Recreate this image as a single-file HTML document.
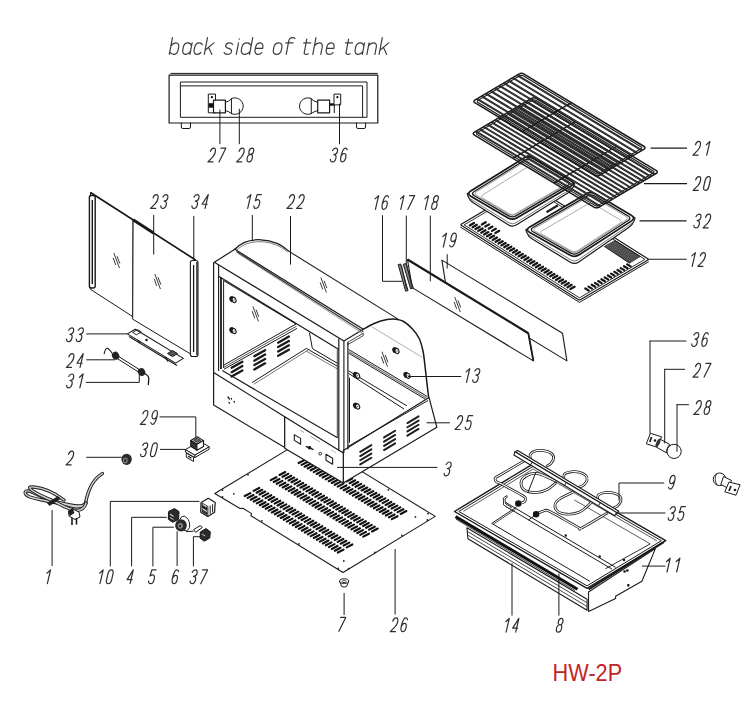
<!DOCTYPE html>
<html><head><meta charset="utf-8"><style>
html,body{margin:0;padding:0;background:#fff;}
svg{display:block;}
text{font-family:"Liberation Sans",sans-serif;font-style:italic;}
</style></head><body>
<svg width="755" height="702" viewBox="0 0 755 702">
<rect width="755" height="702" fill="#fff"/>
<path d="M172.49,37.60 L169.30,54.40  M170.92,45.90 C172.61,43.80 174.29,42.90 175.89,42.90 C178.39,42.90 179.12,44.80 178.63,47.40 L178.16,49.90 C177.66,52.50 176.20,54.40 173.70,54.40 C172.10,54.40 170.73,53.70 169.79,51.80  M192.12,42.90 L189.94,54.40  M191.55,45.90 C190.85,43.80 189.62,42.90 188.12,42.90 C185.52,42.90 183.76,44.80 183.27,47.40 L182.79,49.90 C182.30,52.50 183.34,54.40 185.94,54.40 C187.44,54.40 189.01,53.50 190.51,51.40  M202.36,44.80 C201.81,43.50 200.92,42.90 199.42,42.90 C196.92,42.90 195.16,44.80 194.67,47.40 L194.19,49.90 C193.70,52.50 194.74,54.40 197.24,54.40 C198.74,54.40 199.85,53.80 200.90,52.50  M207.49,37.60 L204.30,54.40  M213.89,42.90 L205.10,50.20  M208.55,47.30 L211.90,54.40  M232.64,44.50 C231.97,43.30 230.94,42.90 229.54,42.90 C227.44,42.90 226.05,43.90 225.71,45.70 C225.37,47.50 226.97,48.00 228.60,48.40 C230.40,48.90 231.89,49.50 231.51,51.50 C231.13,53.50 229.46,54.40 227.36,54.40 C225.76,54.40 224.65,53.90 224.10,52.60  M238.49,42.90 L236.30,54.40  M239.21,39.10 L239.26,38.80  M252.73,37.60 L249.54,54.40  M251.15,45.90 C250.35,43.80 248.82,42.90 247.12,42.90 C244.22,42.90 242.36,44.80 241.87,47.40 L241.39,49.90 C240.90,52.50 242.04,54.40 244.94,54.40 C246.64,54.40 248.51,53.50 250.11,51.40  M255.48,48.40 L262.68,48.40 C263.34,44.90 262.32,42.90 260.22,42.90 C257.82,42.90 256.06,44.80 255.57,47.40 L255.09,49.90 C254.60,52.50 255.64,54.40 258.14,54.40 C259.54,54.40 260.85,53.80 261.88,52.60  M278.72,42.90 C276.12,42.90 274.36,44.80 273.87,47.40 L273.39,49.90 C272.90,52.50 273.94,54.40 276.54,54.40 C279.14,54.40 280.90,52.50 281.39,49.90 L281.87,47.40 C282.36,44.80 281.32,42.90 278.72,42.90 Z M294.96,38.40 C294.27,37.80 293.41,37.60 292.51,37.60 C290.51,37.60 289.16,38.90 288.78,40.90 L286.22,54.40  M285.80,42.90 L293.00,42.90  M306.80,39.20 L304.29,52.40 C304.05,53.70 304.71,54.40 306.12,54.40 C306.91,54.40 307.65,54.20 308.43,53.80  M303.70,42.90 L310.70,42.90  M315.99,37.60 L312.80,54.40  M314.43,45.80 C316.03,43.70 317.79,42.90 319.29,42.90 C321.79,42.90 322.70,44.40 322.21,47.00 L320.80,54.40  M326.68,48.40 L333.88,48.40 C334.54,44.90 333.52,42.90 331.42,42.90 C329.02,42.90 327.26,44.80 326.77,47.40 L326.29,49.90 C325.80,52.50 326.84,54.40 329.34,54.40 C330.74,54.40 332.05,53.80 333.08,52.60  M348.60,39.20 L346.09,52.40 C345.85,53.70 346.51,54.40 347.92,54.40 C348.71,54.40 349.45,54.20 350.23,53.80  M345.50,42.90 L352.50,42.90  M364.52,42.90 L362.34,54.40  M363.95,45.90 C363.25,43.80 362.02,42.90 360.52,42.90 C357.92,42.90 356.16,44.80 355.67,47.40 L355.19,49.90 C354.70,52.50 355.74,54.40 358.34,54.40 C359.84,54.40 361.41,53.50 362.91,51.40  M369.08,42.90 L366.90,54.40  M368.53,45.80 C370.13,43.70 371.88,42.90 373.38,42.90 C375.88,42.90 376.80,44.40 376.31,47.00 L374.90,54.40  M382.29,37.60 L379.10,54.40  M388.69,42.90 L379.90,50.20  M383.35,47.30 L386.70,54.40  " fill="none" stroke="#3c3c3c" stroke-width="1.2" stroke-linecap="round" stroke-linejoin="round"/>
<line x1="170.5" y1="73.4" x2="377.8" y2="73.4" stroke="#1a1a1a" stroke-width="1.0" />
<polygon points="169.1,75.2 377.8,75.2 377.8,123 169.1,123" fill="none" stroke="#1a1a1a" stroke-width="1.2" stroke-linejoin="round" />
<polygon points="180.4,82 367,82 367,117.3 180.4,117.3" fill="none" stroke="#1a1a1a" stroke-width="1.0" stroke-linejoin="round" />
<line x1="180.4" y1="85.9" x2="362.6" y2="85.9" stroke="#1a1a1a" stroke-width="1.0" />
<line x1="362.6" y1="85.9" x2="362.6" y2="117.3" stroke="#1a1a1a" stroke-width="1.0" />
<path d="M181.3,123 L181.3,127 Q181.3,128.5 183,128.5 L189,128.5 Q190.5,128.5 190.5,127 L190.5,123" fill="none" stroke="#1a1a1a" stroke-width="1.0" stroke-linejoin="round" stroke-linecap="round" />
<path d="M356.5,123 L356.5,127 Q356.5,128.5 358,128.5 L364,128.5 Q365.6,128.5 365.6,127 L365.6,123" fill="none" stroke="#1a1a1a" stroke-width="1.0" stroke-linejoin="round" stroke-linecap="round" />
<polygon points="208.3,94.1 215.5,94.1 215.5,112.8 208.3,112.8" fill="#fff" stroke="#1a1a1a" stroke-width="1.0" stroke-linejoin="round" />
<rect x="208.6" y="103.2" width="4.8" height="4.5" fill="#111"/>
<circle cx="211.9" cy="97.2" r="0.6" fill="#111" stroke="#1a1a1a" stroke-width="1.1"/>
<path d="M231.8,98.4 A8.3,8.3 0 1 1 231.8,113.8 Z" fill="#fff" stroke="#1a1a1a" stroke-width="1.0" stroke-linejoin="round" stroke-linecap="round" />
<path d="M225.4,102.5 Q229,101.5 231.8,98.6 M225.4,110.5 Q229,111.5 231.8,113.6" fill="none" stroke="#1a1a1a" stroke-width="1.0" stroke-linejoin="round" stroke-linecap="round" />
<polygon points="213.5,100.1 225.4,100.1 225.4,112.8 213.5,112.8" fill="#fff" stroke="#1a1a1a" stroke-width="1.2" stroke-linejoin="round" />
<path d="M310.9,98.4 A8.3,8.3 0 1 0 310.9,113.8 Z" fill="#fff" stroke="#1a1a1a" stroke-width="1.0" stroke-linejoin="round" stroke-linecap="round" />
<path d="M317.7,102.5 Q314,101.5 310.9,98.6 M317.7,110.5 Q314,111.5 310.9,113.6" fill="none" stroke="#1a1a1a" stroke-width="1.0" stroke-linejoin="round" stroke-linecap="round" />
<polygon points="317.7,100.1 329.6,100.1 329.6,112.8 317.7,112.8" fill="#fff" stroke="#1a1a1a" stroke-width="1.2" stroke-linejoin="round" />
<rect x="329.6" y="103.3" width="5" height="2.4" fill="#111"/>
<line x1="334.3" y1="104" x2="334.3" y2="113" stroke="#1a1a1a" stroke-width="1.0" />
<polygon points="334,94.1 340.7,94.1 340.7,104.9 334,104.9" fill="#fff" stroke="#1a1a1a" stroke-width="1.0" stroke-linejoin="round" />
<circle cx="337.4" cy="97.2" r="0.6" fill="#111" stroke="#1a1a1a" stroke-width="1.1"/>
<line x1="219.9" y1="109.6" x2="219.9" y2="144.2" stroke="#1a1a1a" stroke-width="1.0" />
<line x1="239.3" y1="108.8" x2="239.3" y2="144.2" stroke="#1a1a1a" stroke-width="1.0" />
<line x1="339.5" y1="103.7" x2="339.5" y2="144.2" stroke="#1a1a1a" stroke-width="1.0" />
<path d="M210.43,151.41 C211.10,149.20 212.38,148.10 213.65,148.10 C215.18,148.10 215.88,149.48 215.24,152.24 C214.76,154.31 213.83,155.69 212.59,157.07 L207.90,161.90 L213.00,161.90 M220.80,148.10 L225.90,148.10 L219.03,161.90 " fill="none" stroke="#2e2e2e" stroke-width="1.2" stroke-linecap="round" stroke-linejoin="round"/>
<path d="M239.14,151.41 C239.80,149.20 241.08,148.10 242.36,148.10 C243.89,148.10 244.59,149.48 243.95,152.24 C243.47,154.31 242.53,155.69 241.30,157.07 L236.61,161.90 L241.71,161.90 M250.58,154.45 C248.90,154.45 248.61,153.07 249.02,151.27 C249.50,149.20 250.78,148.10 252.06,148.10 C253.33,148.10 254.09,149.20 253.61,151.27 C253.20,153.07 252.27,154.45 250.58,154.45 C248.80,154.45 247.65,156.10 247.17,158.17 C246.63,160.52 247.33,161.90 248.86,161.90 C250.39,161.90 251.73,160.52 252.27,158.17 C252.75,156.10 252.37,154.45 250.58,154.45 Z " fill="none" stroke="#2e2e2e" stroke-width="1.2" stroke-linecap="round" stroke-linejoin="round"/>
<path d="M332.56,150.58 C333.49,148.79 334.67,148.10 335.69,148.10 C337.22,148.10 337.92,149.48 337.41,151.69 C336.93,153.76 335.71,154.59 333.78,154.59 M333.78,154.59 C335.71,154.59 336.41,155.97 335.87,158.31 C335.29,160.80 334.02,161.90 332.49,161.90 C331.21,161.90 330.35,161.21 330.51,159.42 M347.15,149.76 C346.82,148.51 346.15,148.10 345.39,148.10 C343.60,148.10 341.88,152.24 340.92,156.38 C340.12,159.83 340.66,161.90 342.19,161.90 C343.72,161.90 345.19,159.97 345.76,157.48 C346.34,155.00 345.67,153.48 344.14,153.48 C342.87,153.48 341.49,155.00 340.85,156.66 " fill="none" stroke="#2e2e2e" stroke-width="1.2" stroke-linecap="round" stroke-linejoin="round"/>
<polyline points="460.3,227 579.5,302.4 648.8,261.6" fill="none" stroke="#1a1a1a" stroke-width="1.0" stroke-linejoin="round" />
<path d="M461.57,225.6 Q460.3,224.8 461.59,224.04 L528.31,184.76 Q529.6,184 530.87,184.8 L647.53,258.6 Q648.8,259.4 647.51,260.16 L580.79,299.44 Q579.5,300.2 578.23,299.4 Z" fill="#fff" stroke="#1a1a1a" stroke-width="1.2" stroke-linejoin="round" stroke-linecap="round" />
<polygon points="464.14,224.86 529.56,186.34 644.96,259.34 579.54,297.86" fill="none" stroke="#1a1a1a" stroke-width="0.9" stroke-linejoin="round" />
<line x1="469.74" y1="225.38" x2="473.93" y2="223.03" stroke="#151515" stroke-width="2.3" stroke-linecap="round"/>
<line x1="472.62" y1="227.2" x2="476.8" y2="224.85" stroke="#151515" stroke-width="2.3" stroke-linecap="round"/>
<line x1="475.49" y1="229.01" x2="479.68" y2="226.66" stroke="#151515" stroke-width="2.3" stroke-linecap="round"/>
<line x1="478.36" y1="230.83" x2="482.55" y2="228.48" stroke="#151515" stroke-width="2.3" stroke-linecap="round"/>
<line x1="481.24" y1="232.65" x2="485.42" y2="230.3" stroke="#151515" stroke-width="2.3" stroke-linecap="round"/>
<line x1="484.11" y1="234.47" x2="488.3" y2="232.12" stroke="#151515" stroke-width="2.3" stroke-linecap="round"/>
<line x1="486.99" y1="236.29" x2="491.17" y2="233.94" stroke="#151515" stroke-width="2.3" stroke-linecap="round"/>
<line x1="489.86" y1="238.11" x2="494.05" y2="235.75" stroke="#151515" stroke-width="2.3" stroke-linecap="round"/>
<line x1="492.74" y1="239.92" x2="496.92" y2="237.57" stroke="#151515" stroke-width="2.3" stroke-linecap="round"/>
<line x1="495.61" y1="241.74" x2="499.8" y2="239.39" stroke="#151515" stroke-width="2.3" stroke-linecap="round"/>
<line x1="498.49" y1="243.56" x2="502.67" y2="241.21" stroke="#151515" stroke-width="2.3" stroke-linecap="round"/>
<line x1="501.36" y1="245.38" x2="505.55" y2="243.03" stroke="#151515" stroke-width="2.3" stroke-linecap="round"/>
<line x1="504.24" y1="247.2" x2="508.42" y2="244.85" stroke="#151515" stroke-width="2.3" stroke-linecap="round"/>
<line x1="507.11" y1="249.02" x2="511.29" y2="246.66" stroke="#151515" stroke-width="2.3" stroke-linecap="round"/>
<line x1="509.98" y1="250.83" x2="514.17" y2="248.48" stroke="#151515" stroke-width="2.3" stroke-linecap="round"/>
<line x1="512.86" y1="252.65" x2="517.04" y2="250.3" stroke="#151515" stroke-width="2.3" stroke-linecap="round"/>
<line x1="515.73" y1="254.47" x2="519.92" y2="252.12" stroke="#151515" stroke-width="2.3" stroke-linecap="round"/>
<line x1="518.61" y1="256.29" x2="522.79" y2="253.94" stroke="#151515" stroke-width="2.3" stroke-linecap="round"/>
<line x1="521.48" y1="258.11" x2="525.67" y2="255.76" stroke="#151515" stroke-width="2.3" stroke-linecap="round"/>
<line x1="524.36" y1="259.92" x2="528.54" y2="257.57" stroke="#151515" stroke-width="2.3" stroke-linecap="round"/>
<line x1="527.23" y1="261.74" x2="531.42" y2="259.39" stroke="#151515" stroke-width="2.3" stroke-linecap="round"/>
<line x1="530.11" y1="263.56" x2="534.29" y2="261.21" stroke="#151515" stroke-width="2.3" stroke-linecap="round"/>
<line x1="532.98" y1="265.38" x2="537.17" y2="263.03" stroke="#151515" stroke-width="2.3" stroke-linecap="round"/>
<line x1="535.85" y1="267.2" x2="540.04" y2="264.85" stroke="#151515" stroke-width="2.3" stroke-linecap="round"/>
<line x1="538.73" y1="269.02" x2="542.91" y2="266.67" stroke="#151515" stroke-width="2.3" stroke-linecap="round"/>
<line x1="541.6" y1="270.83" x2="545.79" y2="268.48" stroke="#151515" stroke-width="2.3" stroke-linecap="round"/>
<line x1="544.48" y1="272.65" x2="548.66" y2="270.3" stroke="#151515" stroke-width="2.3" stroke-linecap="round"/>
<line x1="547.35" y1="274.47" x2="551.54" y2="272.12" stroke="#151515" stroke-width="2.3" stroke-linecap="round"/>
<line x1="550.23" y1="276.29" x2="554.41" y2="273.94" stroke="#151515" stroke-width="2.3" stroke-linecap="round"/>
<line x1="553.1" y1="278.11" x2="557.29" y2="275.76" stroke="#151515" stroke-width="2.3" stroke-linecap="round"/>
<line x1="555.98" y1="279.93" x2="560.16" y2="277.57" stroke="#151515" stroke-width="2.3" stroke-linecap="round"/>
<line x1="558.85" y1="281.74" x2="563.04" y2="279.39" stroke="#151515" stroke-width="2.3" stroke-linecap="round"/>
<line x1="561.73" y1="283.56" x2="565.91" y2="281.21" stroke="#151515" stroke-width="2.3" stroke-linecap="round"/>
<line x1="564.6" y1="285.38" x2="568.78" y2="283.03" stroke="#151515" stroke-width="2.3" stroke-linecap="round"/>
<line x1="567.47" y1="287.2" x2="571.66" y2="284.85" stroke="#151515" stroke-width="2.3" stroke-linecap="round"/>
<line x1="570.35" y1="289.02" x2="574.53" y2="286.67" stroke="#151515" stroke-width="2.3" stroke-linecap="round"/>
<line x1="481.88" y1="224.43" x2="485.72" y2="222.27" stroke="#151515" stroke-width="2.2" stroke-linecap="round"/>
<line x1="485.26" y1="226.57" x2="489.1" y2="224.41" stroke="#151515" stroke-width="2.2" stroke-linecap="round"/>
<line x1="488.64" y1="228.71" x2="492.48" y2="226.55" stroke="#151515" stroke-width="2.2" stroke-linecap="round"/>
<line x1="492.02" y1="230.84" x2="495.86" y2="228.69" stroke="#151515" stroke-width="2.2" stroke-linecap="round"/>
<line x1="495.4" y1="232.98" x2="499.24" y2="230.83" stroke="#151515" stroke-width="2.2" stroke-linecap="round"/>
<line x1="585.28" y1="288.48" x2="588.72" y2="290.52" stroke="#151515" stroke-width="2.2" stroke-linecap="round"/>
<line x1="588.5" y1="286.63" x2="591.94" y2="288.67" stroke="#151515" stroke-width="2.2" stroke-linecap="round"/>
<line x1="591.73" y1="284.77" x2="595.17" y2="286.81" stroke="#151515" stroke-width="2.2" stroke-linecap="round"/>
<line x1="594.95" y1="282.92" x2="598.39" y2="284.96" stroke="#151515" stroke-width="2.2" stroke-linecap="round"/>
<line x1="598.17" y1="281.06" x2="601.61" y2="283.1" stroke="#151515" stroke-width="2.2" stroke-linecap="round"/>
<line x1="601.4" y1="279.21" x2="604.84" y2="281.25" stroke="#151515" stroke-width="2.2" stroke-linecap="round"/>
<line x1="604.62" y1="277.36" x2="608.06" y2="279.4" stroke="#151515" stroke-width="2.2" stroke-linecap="round"/>
<line x1="607.84" y1="275.5" x2="611.28" y2="277.54" stroke="#151515" stroke-width="2.2" stroke-linecap="round"/>
<line x1="611.06" y1="273.65" x2="614.5" y2="275.69" stroke="#151515" stroke-width="2.2" stroke-linecap="round"/>
<line x1="614.29" y1="271.8" x2="617.73" y2="273.84" stroke="#151515" stroke-width="2.2" stroke-linecap="round"/>
<line x1="617.51" y1="269.94" x2="620.95" y2="271.98" stroke="#151515" stroke-width="2.2" stroke-linecap="round"/>
<line x1="620.73" y1="268.09" x2="624.17" y2="270.13" stroke="#151515" stroke-width="2.2" stroke-linecap="round"/>
<line x1="623.96" y1="266.23" x2="627.4" y2="268.27" stroke="#151515" stroke-width="2.2" stroke-linecap="round"/>
<line x1="627.18" y1="264.38" x2="630.62" y2="266.42" stroke="#151515" stroke-width="2.2" stroke-linecap="round"/>
<polygon points="604.4,246.5 614.9,240.5 640.2,256.5 629.4,263.2" fill="#262626" stroke="#222" stroke-width="0.8" stroke-linejoin="round" />
<line x1="605.57" y1="245.83" x2="630.6" y2="262.46" stroke="#bbb" stroke-width="0.45" />
<line x1="606.73" y1="245.17" x2="631.8" y2="261.71" stroke="#bbb" stroke-width="0.45" />
<line x1="607.9" y1="244.5" x2="633" y2="260.97" stroke="#bbb" stroke-width="0.45" />
<line x1="609.07" y1="243.83" x2="634.2" y2="260.22" stroke="#bbb" stroke-width="0.45" />
<line x1="610.23" y1="243.17" x2="635.4" y2="259.48" stroke="#bbb" stroke-width="0.45" />
<line x1="611.4" y1="242.5" x2="636.6" y2="258.73" stroke="#bbb" stroke-width="0.45" />
<line x1="612.57" y1="241.83" x2="637.8" y2="257.99" stroke="#bbb" stroke-width="0.45" />
<line x1="613.73" y1="241.17" x2="639" y2="257.24" stroke="#bbb" stroke-width="0.45" />
<path d="M467.2,193.7 L468.46,196.97 Q469.9,200.7 473.28,202.83 L508.17,224.83 Q512.4,227.5 516.65,224.86 L568.6,192.61 Q572,190.5 573.44,186.77 L574.7,183.5 L528,155.5 Z" fill="#fff" stroke="#1a1a1a" stroke-width="1.2" stroke-linejoin="round" stroke-linecap="round" />
<path d="M469.2,198.1 L509,222.79 Q512.4,224.9 515.81,222.81 L572.7,187.9 " fill="none" stroke="#555" stroke-width="0.8" stroke-linejoin="round" stroke-linecap="round" />
<path d="M471.15,196.47 Q466.4,193.7 471.07,190.8 L523.33,158.4 Q528,155.5 532.74,158.29 L570.76,180.71 Q575.5,183.5 570.76,186.28 L517.14,217.72 Q512.4,220.5 507.65,217.73 Z" fill="#fff" stroke="#1a1a1a" stroke-width="1.7" stroke-linejoin="round" stroke-linecap="round" />
<path d="M474.3,195.76 Q470.67,193.64 474.24,191.43 L524.46,160.28 Q528.03,158.07 531.65,160.2 L567.54,181.36 Q571.16,183.49 567.54,185.62 L516.02,215.83 Q512.4,217.95 508.77,215.84 Z" fill="none" stroke="#1a1a1a" stroke-width="1.3" stroke-linejoin="round" stroke-linecap="round" />
<path d="M476.41,195.37 Q473.39,193.6 476.36,191.76 L525.07,161.55 Q528.05,159.71 531.06,161.48 L565.38,181.71 Q568.4,183.49 565.38,185.26 L515.41,214.56 Q512.39,216.33 509.37,214.57 Z" fill="none" stroke="#666" stroke-width="0.7" stroke-linejoin="round" stroke-linecap="round" />
<path d="M482.58,198.02 Q479.98,196.51 482.53,194.93 L525.54,168.26 Q528.09,166.68 530.68,168.2 L559.1,184.96 Q561.69,186.48 559.1,188 L514.98,213.87 Q512.39,215.39 509.8,213.88 Z" fill="none" stroke="#888" stroke-width="0.7" stroke-linejoin="round" stroke-linecap="round" />
<line x1="546.5" y1="212.3" x2="558" y2="205.2" stroke="#222" stroke-width="2.2" />
<path d="M525.8,229.7 L527.06,232.97 Q528.5,236.7 531.92,238.78 L570.33,262.2 Q574.6,264.8 578.72,261.97 L629.1,227.36 Q632.4,225.1 633.84,221.37 L635.1,218.1 L590.8,191.2 Z" fill="#fff" stroke="#1a1a1a" stroke-width="1.2" stroke-linejoin="round" stroke-linecap="round" />
<path d="M527.8,234.1 L571.17,260.14 Q574.6,262.2 577.91,259.95 L633.1,222.5 " fill="none" stroke="#555" stroke-width="0.8" stroke-linejoin="round" stroke-linecap="round" />
<path d="M529.79,232.41 Q525,229.7 529.75,226.92 L586.05,193.98 Q590.8,191.2 595.52,194.02 L631.18,215.28 Q635.9,218.1 631.28,221.09 L579.22,254.81 Q574.6,257.8 569.81,255.09 Z" fill="#fff" stroke="#1a1a1a" stroke-width="1.7" stroke-linejoin="round" stroke-linecap="round" />
<path d="M533.06,231.74 Q529.41,229.67 533.03,227.55 L587.16,195.88 Q590.79,193.76 594.4,195.91 L628.13,216.03 Q631.73,218.18 628.21,220.46 L578.05,252.95 Q574.52,255.23 570.87,253.16 Z" fill="none" stroke="#1a1a1a" stroke-width="1.3" stroke-linejoin="round" stroke-linecap="round" />
<path d="M535.26,231.37 Q532.21,229.65 535.24,227.88 L587.76,197.15 Q590.78,195.38 593.79,197.17 L626.08,216.43 Q629.08,218.23 626.15,220.13 L577.41,251.69 Q574.48,253.59 571.43,251.87 Z" fill="none" stroke="#666" stroke-width="0.7" stroke-linejoin="round" stroke-linecap="round" />
<path d="M541.64,234.08 Q539.03,232.6 541.62,231.09 L588.18,203.85 Q590.77,202.33 593.34,203.87 L620.07,219.81 Q622.64,221.34 620.13,222.98 L576.88,250.99 Q574.36,252.62 571.75,251.14 Z" fill="none" stroke="#888" stroke-width="0.7" stroke-linejoin="round" stroke-linecap="round" />
<path d="M474.47,135.15 Q471.9,133.6 474.48,132.08 L531.42,98.52 Q534,97 536.57,98.55 L656.03,170.45 Q658.6,172 656.02,173.52 L599.08,207.08 Q596.5,208.6 593.93,207.05 Z" fill="none" stroke="#1a1a1a" stroke-width="1.5" stroke-linejoin="round" stroke-linecap="round" />
<path d="M477.33,134.65 Q475.61,133.62 477.34,132.6 L532.27,100.23 Q533.99,99.21 535.7,100.24 L653.17,170.95 Q654.89,171.98 653.16,173 L598.23,205.37 Q596.51,206.39 594.8,205.36 Z" fill="none" stroke="#1a1a1a" stroke-width="1.1" stroke-linejoin="round" stroke-linecap="round" />
<line x1="475.78" y1="131.31" x2="600.38" y2="206.31" stroke="#1a1a1a" stroke-width="2.0" />
<line x1="475.78" y1="131.31" x2="600.38" y2="206.31" stroke="#777" stroke-width="0.4" />
<line x1="479.66" y1="129.03" x2="604.26" y2="204.03" stroke="#1a1a1a" stroke-width="2.0" />
<line x1="479.66" y1="129.03" x2="604.26" y2="204.03" stroke="#777" stroke-width="0.4" />
<line x1="483.54" y1="126.74" x2="608.14" y2="201.74" stroke="#1a1a1a" stroke-width="2.0" />
<line x1="483.54" y1="126.74" x2="608.14" y2="201.74" stroke="#777" stroke-width="0.4" />
<line x1="487.42" y1="124.45" x2="612.02" y2="199.45" stroke="#1a1a1a" stroke-width="2.0" />
<line x1="487.42" y1="124.45" x2="612.02" y2="199.45" stroke="#777" stroke-width="0.4" />
<line x1="491.31" y1="122.16" x2="615.91" y2="197.16" stroke="#1a1a1a" stroke-width="2.0" />
<line x1="491.31" y1="122.16" x2="615.91" y2="197.16" stroke="#777" stroke-width="0.4" />
<line x1="495.19" y1="119.88" x2="619.79" y2="194.88" stroke="#1a1a1a" stroke-width="2.0" />
<line x1="495.19" y1="119.88" x2="619.79" y2="194.88" stroke="#777" stroke-width="0.4" />
<line x1="499.07" y1="117.59" x2="623.67" y2="192.59" stroke="#1a1a1a" stroke-width="2.0" />
<line x1="499.07" y1="117.59" x2="623.67" y2="192.59" stroke="#777" stroke-width="0.4" />
<line x1="502.95" y1="115.3" x2="627.55" y2="190.3" stroke="#1a1a1a" stroke-width="2.0" />
<line x1="502.95" y1="115.3" x2="627.55" y2="190.3" stroke="#777" stroke-width="0.4" />
<line x1="506.83" y1="113.01" x2="631.43" y2="188.01" stroke="#1a1a1a" stroke-width="2.0" />
<line x1="506.83" y1="113.01" x2="631.43" y2="188.01" stroke="#777" stroke-width="0.4" />
<line x1="510.71" y1="110.72" x2="635.31" y2="185.73" stroke="#1a1a1a" stroke-width="2.0" />
<line x1="510.71" y1="110.72" x2="635.31" y2="185.73" stroke="#777" stroke-width="0.4" />
<line x1="514.59" y1="108.44" x2="639.19" y2="183.44" stroke="#1a1a1a" stroke-width="2.0" />
<line x1="514.59" y1="108.44" x2="639.19" y2="183.44" stroke="#777" stroke-width="0.4" />
<line x1="518.48" y1="106.15" x2="643.08" y2="181.15" stroke="#1a1a1a" stroke-width="2.0" />
<line x1="518.48" y1="106.15" x2="643.08" y2="181.15" stroke="#777" stroke-width="0.4" />
<line x1="522.36" y1="103.86" x2="646.96" y2="178.86" stroke="#1a1a1a" stroke-width="2.0" />
<line x1="522.36" y1="103.86" x2="646.96" y2="178.86" stroke="#777" stroke-width="0.4" />
<line x1="526.24" y1="101.58" x2="650.84" y2="176.57" stroke="#1a1a1a" stroke-width="2.0" />
<line x1="526.24" y1="101.58" x2="650.84" y2="176.57" stroke="#777" stroke-width="0.4" />
<line x1="530.12" y1="99.29" x2="654.72" y2="174.29" stroke="#1a1a1a" stroke-width="2.0" />
<line x1="530.12" y1="99.29" x2="654.72" y2="174.29" stroke="#777" stroke-width="0.4" />
<line x1="513.02" y1="158.35" x2="575.12" y2="121.75" stroke="#1a1a1a" stroke-width="1.4" />
<line x1="554.14" y1="183.1" x2="616.24" y2="146.5" stroke="#1a1a1a" stroke-width="1.4" />
<path d="M475.17,102.95 Q472.6,101.4 475.18,99.87 L518.92,74.03 Q521.5,72.5 524.07,74.05 L643.73,146.25 Q646.3,147.8 643.72,149.33 L599.98,175.17 Q597.4,176.7 594.83,175.15 Z" fill="none" stroke="#1a1a1a" stroke-width="1.5" stroke-linejoin="round" stroke-linecap="round" />
<path d="M478.02,102.45 Q476.31,101.42 478.03,100.4 L519.77,75.73 Q521.49,74.71 523.2,75.75 L640.88,146.75 Q642.59,147.78 640.87,148.8 L599.13,173.47 Q597.41,174.49 595.7,173.45 Z" fill="none" stroke="#1a1a1a" stroke-width="1.1" stroke-linejoin="round" stroke-linecap="round" />
<line x1="477.05" y1="98.77" x2="601.85" y2="174.07" stroke="#1a1a1a" stroke-width="2.0" />
<line x1="477.05" y1="98.77" x2="601.85" y2="174.07" stroke="#777" stroke-width="0.4" />
<line x1="481.49" y1="96.15" x2="606.29" y2="171.45" stroke="#1a1a1a" stroke-width="2.0" />
<line x1="481.49" y1="96.15" x2="606.29" y2="171.45" stroke="#777" stroke-width="0.4" />
<line x1="485.94" y1="93.52" x2="610.74" y2="168.82" stroke="#1a1a1a" stroke-width="2.0" />
<line x1="485.94" y1="93.52" x2="610.74" y2="168.82" stroke="#777" stroke-width="0.4" />
<line x1="490.38" y1="90.89" x2="615.18" y2="166.19" stroke="#1a1a1a" stroke-width="2.0" />
<line x1="490.38" y1="90.89" x2="615.18" y2="166.19" stroke="#777" stroke-width="0.4" />
<line x1="494.83" y1="88.26" x2="619.63" y2="163.56" stroke="#1a1a1a" stroke-width="2.0" />
<line x1="494.83" y1="88.26" x2="619.63" y2="163.56" stroke="#777" stroke-width="0.4" />
<line x1="499.27" y1="85.64" x2="624.07" y2="160.94" stroke="#1a1a1a" stroke-width="2.0" />
<line x1="499.27" y1="85.64" x2="624.07" y2="160.94" stroke="#777" stroke-width="0.4" />
<line x1="503.72" y1="83.01" x2="628.52" y2="158.31" stroke="#1a1a1a" stroke-width="2.0" />
<line x1="503.72" y1="83.01" x2="628.52" y2="158.31" stroke="#777" stroke-width="0.4" />
<line x1="508.16" y1="80.38" x2="632.96" y2="155.68" stroke="#1a1a1a" stroke-width="2.0" />
<line x1="508.16" y1="80.38" x2="632.96" y2="155.68" stroke="#777" stroke-width="0.4" />
<line x1="512.61" y1="77.75" x2="637.41" y2="153.05" stroke="#1a1a1a" stroke-width="2.0" />
<line x1="512.61" y1="77.75" x2="637.41" y2="153.05" stroke="#777" stroke-width="0.4" />
<line x1="517.05" y1="75.13" x2="641.85" y2="150.43" stroke="#1a1a1a" stroke-width="2.0" />
<line x1="517.05" y1="75.13" x2="641.85" y2="150.43" stroke="#777" stroke-width="0.4" />
<line x1="522.52" y1="131.52" x2="571.42" y2="102.62" stroke="#1a1a1a" stroke-width="1.4" />
<line x1="644" y1="183.6" x2="687" y2="183.6" stroke="#1a1a1a" stroke-width="1.1" />
<line x1="650.5" y1="148.1" x2="687" y2="148.1" stroke="#1a1a1a" stroke-width="1.1" />
<line x1="639.6" y1="220.9" x2="686.6" y2="220.9" stroke="#1a1a1a" stroke-width="1.1" />
<line x1="647.8" y1="259.3" x2="686.6" y2="259.3" stroke="#1a1a1a" stroke-width="1.1" />
<path d="M695.49,144.71 C696.16,142.50 697.44,141.40 698.71,141.40 C700.24,141.40 700.94,142.78 700.30,145.54 C699.82,147.61 698.89,148.99 697.65,150.37 L692.96,155.20 L698.06,155.20 M706.37,144.71 L709.94,141.40 L706.74,155.20 " fill="none" stroke="#2e2e2e" stroke-width="1.2" stroke-linecap="round" stroke-linejoin="round"/>
<path d="M695.69,179.91 C696.36,177.70 697.63,176.60 698.91,176.60 C700.44,176.60 701.14,177.98 700.50,180.74 C700.02,182.81 699.09,184.19 697.85,185.57 L693.16,190.40 L698.26,190.40 M705.10,180.74 C705.74,177.98 707.08,176.60 708.61,176.60 C710.14,176.60 710.84,177.98 710.20,180.74 L708.92,186.26 C708.28,189.02 706.94,190.40 705.41,190.40 C703.88,190.40 703.18,189.02 703.82,186.26 Z " fill="none" stroke="#2e2e2e" stroke-width="1.2" stroke-linecap="round" stroke-linejoin="round"/>
<path d="M695.98,216.58 C696.90,214.79 698.08,214.10 699.10,214.10 C700.63,214.10 701.33,215.48 700.82,217.69 C700.34,219.76 699.13,220.59 697.19,220.59 M697.19,220.59 C699.13,220.59 699.83,221.97 699.28,224.31 C698.71,226.80 697.43,227.90 695.90,227.90 C694.63,227.90 693.77,227.21 693.93,225.42 M705.59,217.41 C706.25,215.20 707.53,214.10 708.80,214.10 C710.33,214.10 711.03,215.48 710.39,218.24 C709.91,220.31 708.98,221.69 707.74,223.07 L703.05,227.90 L708.15,227.90 " fill="none" stroke="#2e2e2e" stroke-width="1.2" stroke-linecap="round" stroke-linejoin="round"/>
<path d="M691.81,255.91 L695.39,252.60 L692.19,266.40 M700.34,255.91 C701.01,253.70 702.28,252.60 703.56,252.60 C705.09,252.60 705.79,253.98 705.15,256.74 C704.67,258.81 703.73,260.19 702.50,261.57 L697.81,266.40 L702.91,266.40 " fill="none" stroke="#2e2e2e" stroke-width="1.2" stroke-linecap="round" stroke-linejoin="round"/>
<polygon points="90.5,192.5 133.1,219.86 132.7,316.6 90.3,289.2" fill="#fff" stroke="#1a1a1a" stroke-width="1.0" stroke-linejoin="round" />
<polygon points="133.1,219.86 195.6,260 195.6,357 132.7,319.2" fill="#fff" stroke="#1a1a1a" stroke-width="1.0" stroke-linejoin="round" />
<line x1="90.5" y1="192.5" x2="195.6" y2="260" stroke="#1a1a1a" stroke-width="1.6" />
<line x1="133.1" y1="219.86" x2="153.5" y2="232.96" stroke="#1a1a1a" stroke-width="3.0" />
<path d="M89.4,197 Q89.4,195.5 91.6,195.5 L93,195.5 Q95.2,195.5 95.2,197.5 L95.2,286 Q95.2,288 93,288 L91.6,288 Q89.4,288 89.4,286 Z" fill="#fff" stroke="#1a1a1a" stroke-width="1.4" stroke-linejoin="round" stroke-linecap="round" />
<line x1="92.3" y1="200" x2="92.3" y2="284" stroke="#1a1a1a" stroke-width="1.4" />
<path d="M190.4,262 Q190.4,260.5 192.6,260.5 L195.6,260.5 Q198,260.5 198,262.5 L198,354.5 Q198,356.5 195.8,356.5 L192.6,356.5 Q190.4,356.5 190.4,354.5 Z" fill="#fff" stroke="#1a1a1a" stroke-width="1.1" stroke-linejoin="round" stroke-linecap="round" />
<line x1="193.6" y1="265" x2="193.6" y2="352" stroke="#1a1a1a" stroke-width="1.3" />
<line x1="196.9" y1="262" x2="196.9" y2="355" stroke="#1a1a1a" stroke-width="1.3" />
<line x1="114" y1="253.4" x2="119.3" y2="267.7" stroke="#3a3a3a" stroke-width="1.0" stroke-linecap="round"/>
<line x1="113.3" y1="258.2" x2="115.6" y2="264.6" stroke="#3a3a3a" stroke-width="1.0" stroke-linecap="round"/>
<line x1="117.2" y1="256.7" x2="119.7" y2="263.2" stroke="#3a3a3a" stroke-width="1.0" stroke-linecap="round"/>
<line x1="155" y1="274.4" x2="160.3" y2="288.7" stroke="#3a3a3a" stroke-width="1.0" stroke-linecap="round"/>
<line x1="154.3" y1="279.2" x2="156.6" y2="285.6" stroke="#3a3a3a" stroke-width="1.0" stroke-linecap="round"/>
<line x1="158.2" y1="277.7" x2="160.7" y2="284.2" stroke="#3a3a3a" stroke-width="1.0" stroke-linecap="round"/>
<line x1="153.7" y1="214.9" x2="153.7" y2="254.5" stroke="#1a1a1a" stroke-width="1.0" />
<line x1="193.8" y1="215.9" x2="193.8" y2="259.2" stroke="#1a1a1a" stroke-width="1.0" />
<path d="M153.09,197.91 C153.76,195.70 155.03,194.60 156.31,194.60 C157.84,194.60 158.54,195.98 157.90,198.74 C157.42,200.81 156.49,202.19 155.25,203.57 L150.56,208.40 L155.66,208.40 M162.88,197.08 C163.81,195.29 164.99,194.60 166.01,194.60 C167.54,194.60 168.24,195.98 167.73,198.19 C167.25,200.26 166.04,201.09 164.10,201.09 M164.10,201.09 C166.04,201.09 166.74,202.47 166.19,204.81 C165.62,207.30 164.34,208.40 162.81,208.40 C161.53,208.40 160.67,207.71 160.84,205.92 " fill="none" stroke="#2e2e2e" stroke-width="1.2" stroke-linecap="round" stroke-linejoin="round"/>
<path d="M194.03,197.08 C194.95,195.29 196.13,194.60 197.15,194.60 C198.68,194.60 199.38,195.98 198.87,198.19 C198.39,200.26 197.18,201.09 195.24,201.09 M195.24,201.09 C197.18,201.09 197.88,202.47 197.34,204.81 C196.76,207.30 195.48,208.40 193.95,208.40 C192.68,208.40 191.82,207.71 191.98,205.92 M205.08,208.40 L208.28,194.60 L202.06,204.26 L207.16,204.26 " fill="none" stroke="#2e2e2e" stroke-width="1.2" stroke-linecap="round" stroke-linejoin="round"/>
<polygon points="127.4,333.9 135.2,329.2 183.4,358.4 175.6,363.1" fill="#fff" stroke="#1a1a1a" stroke-width="1.1" stroke-linejoin="round" />
<line x1="129" y1="336.5" x2="177" y2="365.5" stroke="#1a1a1a" stroke-width="1.1" />
<polygon points="132.6,332.4 137.6,329.6 141.4,332 136.4,334.8" fill="none" stroke="#1a1a1a" stroke-width="0.9" stroke-linejoin="round" />
<circle cx="146.5" cy="339.9" r="0.7" fill="#111" stroke="#1a1a1a" stroke-width="1.1"/>
<polygon points="167.5,353.5 172.5,350.5 177.5,353.6 172.5,356.6" fill="#555" stroke="#1a1a1a" stroke-width="1.0" stroke-linejoin="round" />
<line x1="138" y1="340" x2="140" y2="343" stroke="#1a1a1a" stroke-width="1.3" />
<line x1="165" y1="357" x2="168" y2="361.5" stroke="#1a1a1a" stroke-width="1.3" />
<line x1="117.9" y1="356" x2="140.5" y2="370.3" stroke="#1a1a1a" stroke-width="1.0" />
<line x1="117" y1="358.4" x2="139.6" y2="372.7" stroke="#1a1a1a" stroke-width="1.0" />
<ellipse cx="115.6" cy="355.7" rx="3.6" ry="4.0" transform="rotate(-30 115.6 355.7)" fill="#222"/>
<ellipse cx="141.6" cy="372.0" rx="3.6" ry="4.0" transform="rotate(-30 141.6 372.0)" fill="#222"/>
<path d="M104.2,353.6 Q105.5,347 108,348.5 Q110,350 112,353" fill="none" stroke="#1a1a1a" stroke-width="1.1" stroke-linejoin="round" stroke-linecap="round" />
<path d="M144.5,373.5 Q149,375.5 148.8,379 L148.3,384.6" fill="none" stroke="#1a1a1a" stroke-width="1.3" stroke-linejoin="round" stroke-linecap="round" />
<line x1="86.2" y1="333.9" x2="127.4" y2="333.9" stroke="#1a1a1a" stroke-width="1.0" />
<line x1="86.2" y1="359.8" x2="115" y2="359.8" stroke="#1a1a1a" stroke-width="1.0" />
<path d="M86.2,382.4 L139.3,382.4 L139.3,373.9" fill="none" stroke="#1a1a1a" stroke-width="1.0" stroke-linejoin="round" stroke-linecap="round" />
<path d="M68.68,330.28 C69.60,328.49 70.78,327.80 71.80,327.80 C73.33,327.80 74.03,329.18 73.52,331.39 C73.04,333.46 71.83,334.29 69.89,334.29 M69.89,334.29 C71.83,334.29 72.53,335.67 71.98,338.01 C71.41,340.50 70.13,341.60 68.60,341.60 C67.33,341.60 66.47,340.91 66.63,339.12 M78.38,330.28 C79.30,328.49 80.48,327.80 81.50,327.80 C83.03,327.80 83.73,329.18 83.22,331.39 C82.74,333.46 81.53,334.29 79.59,334.29 M79.59,334.29 C81.53,334.29 82.23,335.67 81.68,338.01 C81.11,340.50 79.83,341.60 78.30,341.60 C77.03,341.60 76.17,340.91 76.33,339.12 " fill="none" stroke="#2e2e2e" stroke-width="1.2" stroke-linecap="round" stroke-linejoin="round"/>
<path d="M68.90,356.91 C69.56,354.70 70.84,353.60 72.11,353.60 C73.64,353.60 74.34,354.98 73.70,357.74 C73.22,359.81 72.29,361.19 71.05,362.57 L66.36,367.40 L71.46,367.40 M80.04,367.40 L83.24,353.60 L77.02,363.26 L82.12,363.26 " fill="none" stroke="#2e2e2e" stroke-width="1.2" stroke-linecap="round" stroke-linejoin="round"/>
<path d="M68.73,376.48 C69.65,374.69 70.83,374.00 71.85,374.00 C73.38,374.00 74.08,375.38 73.57,377.59 C73.09,379.66 71.88,380.49 69.94,380.49 M69.94,380.49 C71.88,380.49 72.58,381.87 72.03,384.21 C71.46,386.70 70.18,387.80 68.65,387.80 C67.38,387.80 66.52,387.11 66.68,385.32 M79.51,377.31 L83.08,374.00 L79.88,387.80 " fill="none" stroke="#2e2e2e" stroke-width="1.2" stroke-linecap="round" stroke-linejoin="round"/>
<polygon points="214.8,493.5 306.8,437.9 435.3,516.4 343,572.5 250.9,515.8 251.6,513.6 243,508.3 240,508.5" fill="#fff" stroke="#1a1a1a" stroke-width="1.1" stroke-linejoin="round" />
<circle cx="222.5" cy="490" r="0.9" fill="#222"/>
<circle cx="222.5" cy="497" r="0.9" fill="#222"/>
<circle cx="233.8" cy="493.8" r="0.9" fill="#222"/>
<circle cx="261.8" cy="520.8" r="0.9" fill="#222"/>
<circle cx="299" cy="543.9" r="0.9" fill="#222"/>
<circle cx="388.4" cy="489.9" r="0.9" fill="#222"/>
<circle cx="415.4" cy="516.9" r="0.9" fill="#222"/>
<circle cx="428" cy="513.7" r="0.9" fill="#222"/>
<circle cx="427.3" cy="520" r="0.9" fill="#222"/>
<circle cx="401.9" cy="535.5" r="0.9" fill="#222"/>
<circle cx="374.9" cy="552.4" r="0.9" fill="#222"/>
<circle cx="343.8" cy="561" r="0.9" fill="#222"/>
<circle cx="348.6" cy="568.6" r="0.9" fill="#222"/>
<circle cx="338.3" cy="568.3" r="0.9" fill="#222"/>
<circle cx="248" cy="474.8" r="0.9" fill="#222"/>
<line x1="244.76" y1="496.07" x2="250.44" y2="493.13" stroke="#111" stroke-width="2.15" stroke-linecap="round"/>
<line x1="247.76" y1="497.89" x2="253.45" y2="494.95" stroke="#111" stroke-width="2.15" stroke-linecap="round"/>
<line x1="250.76" y1="499.71" x2="256.45" y2="496.78" stroke="#111" stroke-width="2.15" stroke-linecap="round"/>
<line x1="253.77" y1="501.54" x2="259.45" y2="498.6" stroke="#111" stroke-width="2.15" stroke-linecap="round"/>
<line x1="256.77" y1="503.36" x2="262.46" y2="500.42" stroke="#111" stroke-width="2.15" stroke-linecap="round"/>
<line x1="259.77" y1="505.18" x2="265.46" y2="502.24" stroke="#111" stroke-width="2.15" stroke-linecap="round"/>
<line x1="262.78" y1="507" x2="268.46" y2="504.07" stroke="#111" stroke-width="2.15" stroke-linecap="round"/>
<line x1="265.78" y1="508.83" x2="271.47" y2="505.89" stroke="#111" stroke-width="2.15" stroke-linecap="round"/>
<line x1="268.78" y1="510.65" x2="274.47" y2="507.71" stroke="#111" stroke-width="2.15" stroke-linecap="round"/>
<line x1="271.79" y1="512.47" x2="277.47" y2="509.53" stroke="#111" stroke-width="2.15" stroke-linecap="round"/>
<line x1="274.79" y1="514.3" x2="280.48" y2="511.36" stroke="#111" stroke-width="2.15" stroke-linecap="round"/>
<line x1="277.79" y1="516.12" x2="283.48" y2="513.18" stroke="#111" stroke-width="2.15" stroke-linecap="round"/>
<line x1="280.8" y1="517.94" x2="286.48" y2="515" stroke="#111" stroke-width="2.15" stroke-linecap="round"/>
<line x1="283.8" y1="519.76" x2="289.48" y2="516.82" stroke="#111" stroke-width="2.15" stroke-linecap="round"/>
<line x1="286.8" y1="521.59" x2="292.49" y2="518.65" stroke="#111" stroke-width="2.15" stroke-linecap="round"/>
<line x1="289.81" y1="523.41" x2="295.49" y2="520.47" stroke="#111" stroke-width="2.15" stroke-linecap="round"/>
<line x1="292.81" y1="525.23" x2="298.49" y2="522.29" stroke="#111" stroke-width="2.15" stroke-linecap="round"/>
<line x1="295.81" y1="527.05" x2="301.5" y2="524.11" stroke="#111" stroke-width="2.15" stroke-linecap="round"/>
<line x1="298.82" y1="528.88" x2="304.5" y2="525.94" stroke="#111" stroke-width="2.15" stroke-linecap="round"/>
<line x1="301.82" y1="530.7" x2="307.5" y2="527.76" stroke="#111" stroke-width="2.15" stroke-linecap="round"/>
<line x1="304.82" y1="532.52" x2="310.51" y2="529.58" stroke="#111" stroke-width="2.15" stroke-linecap="round"/>
<line x1="307.82" y1="534.34" x2="313.51" y2="531.4" stroke="#111" stroke-width="2.15" stroke-linecap="round"/>
<line x1="310.83" y1="536.17" x2="316.51" y2="533.23" stroke="#111" stroke-width="2.15" stroke-linecap="round"/>
<line x1="313.83" y1="537.99" x2="319.52" y2="535.05" stroke="#111" stroke-width="2.15" stroke-linecap="round"/>
<line x1="316.83" y1="539.81" x2="322.52" y2="536.87" stroke="#111" stroke-width="2.15" stroke-linecap="round"/>
<line x1="319.84" y1="541.63" x2="325.52" y2="538.7" stroke="#111" stroke-width="2.15" stroke-linecap="round"/>
<line x1="322.84" y1="543.46" x2="328.53" y2="540.52" stroke="#111" stroke-width="2.15" stroke-linecap="round"/>
<line x1="325.84" y1="545.28" x2="331.53" y2="542.34" stroke="#111" stroke-width="2.15" stroke-linecap="round"/>
<line x1="328.85" y1="547.1" x2="334.53" y2="544.16" stroke="#111" stroke-width="2.15" stroke-linecap="round"/>
<line x1="331.85" y1="548.92" x2="337.54" y2="545.99" stroke="#111" stroke-width="2.15" stroke-linecap="round"/>
<line x1="334.85" y1="550.75" x2="340.54" y2="547.81" stroke="#111" stroke-width="2.15" stroke-linecap="round"/>
<line x1="337.86" y1="552.57" x2="343.54" y2="549.63" stroke="#111" stroke-width="2.15" stroke-linecap="round"/>
<line x1="253.56" y1="490.87" x2="259.24" y2="487.93" stroke="#111" stroke-width="2.15" stroke-linecap="round"/>
<line x1="256.56" y1="492.69" x2="262.25" y2="489.75" stroke="#111" stroke-width="2.15" stroke-linecap="round"/>
<line x1="259.56" y1="494.51" x2="265.25" y2="491.58" stroke="#111" stroke-width="2.15" stroke-linecap="round"/>
<line x1="262.57" y1="496.34" x2="268.25" y2="493.4" stroke="#111" stroke-width="2.15" stroke-linecap="round"/>
<line x1="265.57" y1="498.16" x2="271.26" y2="495.22" stroke="#111" stroke-width="2.15" stroke-linecap="round"/>
<line x1="268.57" y1="499.98" x2="274.26" y2="497.04" stroke="#111" stroke-width="2.15" stroke-linecap="round"/>
<line x1="271.58" y1="501.8" x2="277.26" y2="498.87" stroke="#111" stroke-width="2.15" stroke-linecap="round"/>
<line x1="274.58" y1="503.63" x2="280.27" y2="500.69" stroke="#111" stroke-width="2.15" stroke-linecap="round"/>
<line x1="277.58" y1="505.45" x2="283.27" y2="502.51" stroke="#111" stroke-width="2.15" stroke-linecap="round"/>
<line x1="280.59" y1="507.27" x2="286.27" y2="504.33" stroke="#111" stroke-width="2.15" stroke-linecap="round"/>
<line x1="283.59" y1="509.1" x2="289.28" y2="506.16" stroke="#111" stroke-width="2.15" stroke-linecap="round"/>
<line x1="286.59" y1="510.92" x2="292.28" y2="507.98" stroke="#111" stroke-width="2.15" stroke-linecap="round"/>
<line x1="289.6" y1="512.74" x2="295.28" y2="509.8" stroke="#111" stroke-width="2.15" stroke-linecap="round"/>
<line x1="292.6" y1="514.56" x2="298.28" y2="511.62" stroke="#111" stroke-width="2.15" stroke-linecap="round"/>
<line x1="295.6" y1="516.39" x2="301.29" y2="513.45" stroke="#111" stroke-width="2.15" stroke-linecap="round"/>
<line x1="298.61" y1="518.21" x2="304.29" y2="515.27" stroke="#111" stroke-width="2.15" stroke-linecap="round"/>
<line x1="301.61" y1="520.03" x2="307.29" y2="517.09" stroke="#111" stroke-width="2.15" stroke-linecap="round"/>
<line x1="304.61" y1="521.85" x2="310.3" y2="518.91" stroke="#111" stroke-width="2.15" stroke-linecap="round"/>
<line x1="307.62" y1="523.68" x2="313.3" y2="520.74" stroke="#111" stroke-width="2.15" stroke-linecap="round"/>
<line x1="310.62" y1="525.5" x2="316.3" y2="522.56" stroke="#111" stroke-width="2.15" stroke-linecap="round"/>
<line x1="313.62" y1="527.32" x2="319.31" y2="524.38" stroke="#111" stroke-width="2.15" stroke-linecap="round"/>
<line x1="316.62" y1="529.14" x2="322.31" y2="526.2" stroke="#111" stroke-width="2.15" stroke-linecap="round"/>
<line x1="319.63" y1="530.97" x2="325.31" y2="528.03" stroke="#111" stroke-width="2.15" stroke-linecap="round"/>
<line x1="322.63" y1="532.79" x2="328.32" y2="529.85" stroke="#111" stroke-width="2.15" stroke-linecap="round"/>
<line x1="325.63" y1="534.61" x2="331.32" y2="531.67" stroke="#111" stroke-width="2.15" stroke-linecap="round"/>
<line x1="328.64" y1="536.43" x2="334.32" y2="533.5" stroke="#111" stroke-width="2.15" stroke-linecap="round"/>
<line x1="331.64" y1="538.26" x2="337.33" y2="535.32" stroke="#111" stroke-width="2.15" stroke-linecap="round"/>
<line x1="334.64" y1="540.08" x2="340.33" y2="537.14" stroke="#111" stroke-width="2.15" stroke-linecap="round"/>
<line x1="337.65" y1="541.9" x2="343.33" y2="538.96" stroke="#111" stroke-width="2.15" stroke-linecap="round"/>
<line x1="340.65" y1="543.72" x2="346.34" y2="540.79" stroke="#111" stroke-width="2.15" stroke-linecap="round"/>
<line x1="343.65" y1="545.55" x2="349.34" y2="542.61" stroke="#111" stroke-width="2.15" stroke-linecap="round"/>
<line x1="346.66" y1="547.37" x2="352.34" y2="544.43" stroke="#111" stroke-width="2.15" stroke-linecap="round"/>
<line x1="270.76" y1="480.17" x2="276.44" y2="477.23" stroke="#111" stroke-width="2.15" stroke-linecap="round"/>
<line x1="273.74" y1="481.99" x2="279.43" y2="479.05" stroke="#111" stroke-width="2.15" stroke-linecap="round"/>
<line x1="276.72" y1="483.81" x2="282.41" y2="480.88" stroke="#111" stroke-width="2.15" stroke-linecap="round"/>
<line x1="279.71" y1="485.64" x2="285.39" y2="482.7" stroke="#111" stroke-width="2.15" stroke-linecap="round"/>
<line x1="282.69" y1="487.46" x2="288.38" y2="484.52" stroke="#111" stroke-width="2.15" stroke-linecap="round"/>
<line x1="285.68" y1="489.28" x2="291.36" y2="486.34" stroke="#111" stroke-width="2.15" stroke-linecap="round"/>
<line x1="288.66" y1="491.1" x2="294.35" y2="488.17" stroke="#111" stroke-width="2.15" stroke-linecap="round"/>
<line x1="291.64" y1="492.93" x2="297.33" y2="489.99" stroke="#111" stroke-width="2.15" stroke-linecap="round"/>
<line x1="294.63" y1="494.75" x2="300.31" y2="491.81" stroke="#111" stroke-width="2.15" stroke-linecap="round"/>
<line x1="297.61" y1="496.57" x2="303.3" y2="493.63" stroke="#111" stroke-width="2.15" stroke-linecap="round"/>
<line x1="300.6" y1="498.4" x2="306.28" y2="495.46" stroke="#111" stroke-width="2.15" stroke-linecap="round"/>
<line x1="303.58" y1="500.22" x2="309.27" y2="497.28" stroke="#111" stroke-width="2.15" stroke-linecap="round"/>
<line x1="306.56" y1="502.04" x2="312.25" y2="499.1" stroke="#111" stroke-width="2.15" stroke-linecap="round"/>
<line x1="309.55" y1="503.86" x2="315.23" y2="500.92" stroke="#111" stroke-width="2.15" stroke-linecap="round"/>
<line x1="312.53" y1="505.69" x2="318.22" y2="502.75" stroke="#111" stroke-width="2.15" stroke-linecap="round"/>
<line x1="315.52" y1="507.51" x2="321.2" y2="504.57" stroke="#111" stroke-width="2.15" stroke-linecap="round"/>
<line x1="318.5" y1="509.33" x2="324.18" y2="506.39" stroke="#111" stroke-width="2.15" stroke-linecap="round"/>
<line x1="321.48" y1="511.15" x2="327.17" y2="508.21" stroke="#111" stroke-width="2.15" stroke-linecap="round"/>
<line x1="324.47" y1="512.98" x2="330.15" y2="510.04" stroke="#111" stroke-width="2.15" stroke-linecap="round"/>
<line x1="327.45" y1="514.8" x2="333.14" y2="511.86" stroke="#111" stroke-width="2.15" stroke-linecap="round"/>
<line x1="330.43" y1="516.62" x2="336.12" y2="513.68" stroke="#111" stroke-width="2.15" stroke-linecap="round"/>
<line x1="333.42" y1="518.44" x2="339.1" y2="515.5" stroke="#111" stroke-width="2.15" stroke-linecap="round"/>
<line x1="336.4" y1="520.27" x2="342.09" y2="517.33" stroke="#111" stroke-width="2.15" stroke-linecap="round"/>
<line x1="339.39" y1="522.09" x2="345.07" y2="519.15" stroke="#111" stroke-width="2.15" stroke-linecap="round"/>
<line x1="342.37" y1="523.91" x2="348.06" y2="520.97" stroke="#111" stroke-width="2.15" stroke-linecap="round"/>
<line x1="345.35" y1="525.73" x2="351.04" y2="522.8" stroke="#111" stroke-width="2.15" stroke-linecap="round"/>
<line x1="348.34" y1="527.56" x2="354.02" y2="524.62" stroke="#111" stroke-width="2.15" stroke-linecap="round"/>
<line x1="351.32" y1="529.38" x2="357.01" y2="526.44" stroke="#111" stroke-width="2.15" stroke-linecap="round"/>
<line x1="354.31" y1="531.2" x2="359.99" y2="528.26" stroke="#111" stroke-width="2.15" stroke-linecap="round"/>
<line x1="357.29" y1="533.02" x2="362.98" y2="530.09" stroke="#111" stroke-width="2.15" stroke-linecap="round"/>
<line x1="360.27" y1="534.85" x2="365.96" y2="531.91" stroke="#111" stroke-width="2.15" stroke-linecap="round"/>
<line x1="363.26" y1="536.67" x2="368.94" y2="533.73" stroke="#111" stroke-width="2.15" stroke-linecap="round"/>
<line x1="279.56" y1="474.97" x2="285.24" y2="472.03" stroke="#111" stroke-width="2.15" stroke-linecap="round"/>
<line x1="282.54" y1="476.79" x2="288.23" y2="473.85" stroke="#111" stroke-width="2.15" stroke-linecap="round"/>
<line x1="285.52" y1="478.61" x2="291.21" y2="475.68" stroke="#111" stroke-width="2.15" stroke-linecap="round"/>
<line x1="288.51" y1="480.44" x2="294.19" y2="477.5" stroke="#111" stroke-width="2.15" stroke-linecap="round"/>
<line x1="291.49" y1="482.26" x2="297.18" y2="479.32" stroke="#111" stroke-width="2.15" stroke-linecap="round"/>
<line x1="294.48" y1="484.08" x2="300.16" y2="481.14" stroke="#111" stroke-width="2.15" stroke-linecap="round"/>
<line x1="297.46" y1="485.9" x2="303.15" y2="482.97" stroke="#111" stroke-width="2.15" stroke-linecap="round"/>
<line x1="300.44" y1="487.73" x2="306.13" y2="484.79" stroke="#111" stroke-width="2.15" stroke-linecap="round"/>
<line x1="303.43" y1="489.55" x2="309.11" y2="486.61" stroke="#111" stroke-width="2.15" stroke-linecap="round"/>
<line x1="306.41" y1="491.37" x2="312.1" y2="488.43" stroke="#111" stroke-width="2.15" stroke-linecap="round"/>
<line x1="309.4" y1="493.2" x2="315.08" y2="490.26" stroke="#111" stroke-width="2.15" stroke-linecap="round"/>
<line x1="312.38" y1="495.02" x2="318.07" y2="492.08" stroke="#111" stroke-width="2.15" stroke-linecap="round"/>
<line x1="315.36" y1="496.84" x2="321.05" y2="493.9" stroke="#111" stroke-width="2.15" stroke-linecap="round"/>
<line x1="318.35" y1="498.66" x2="324.03" y2="495.72" stroke="#111" stroke-width="2.15" stroke-linecap="round"/>
<line x1="321.33" y1="500.49" x2="327.02" y2="497.55" stroke="#111" stroke-width="2.15" stroke-linecap="round"/>
<line x1="324.32" y1="502.31" x2="330" y2="499.37" stroke="#111" stroke-width="2.15" stroke-linecap="round"/>
<line x1="327.3" y1="504.13" x2="332.98" y2="501.19" stroke="#111" stroke-width="2.15" stroke-linecap="round"/>
<line x1="330.28" y1="505.95" x2="335.97" y2="503.01" stroke="#111" stroke-width="2.15" stroke-linecap="round"/>
<line x1="333.27" y1="507.78" x2="338.95" y2="504.84" stroke="#111" stroke-width="2.15" stroke-linecap="round"/>
<line x1="336.25" y1="509.6" x2="341.94" y2="506.66" stroke="#111" stroke-width="2.15" stroke-linecap="round"/>
<line x1="339.23" y1="511.42" x2="344.92" y2="508.48" stroke="#111" stroke-width="2.15" stroke-linecap="round"/>
<line x1="342.22" y1="513.24" x2="347.9" y2="510.3" stroke="#111" stroke-width="2.15" stroke-linecap="round"/>
<line x1="345.2" y1="515.07" x2="350.89" y2="512.13" stroke="#111" stroke-width="2.15" stroke-linecap="round"/>
<line x1="348.19" y1="516.89" x2="353.87" y2="513.95" stroke="#111" stroke-width="2.15" stroke-linecap="round"/>
<line x1="351.17" y1="518.71" x2="356.86" y2="515.77" stroke="#111" stroke-width="2.15" stroke-linecap="round"/>
<line x1="354.15" y1="520.53" x2="359.84" y2="517.6" stroke="#111" stroke-width="2.15" stroke-linecap="round"/>
<line x1="357.14" y1="522.36" x2="362.82" y2="519.42" stroke="#111" stroke-width="2.15" stroke-linecap="round"/>
<line x1="360.12" y1="524.18" x2="365.81" y2="521.24" stroke="#111" stroke-width="2.15" stroke-linecap="round"/>
<line x1="363.11" y1="526" x2="368.79" y2="523.06" stroke="#111" stroke-width="2.15" stroke-linecap="round"/>
<line x1="366.09" y1="527.82" x2="371.78" y2="524.89" stroke="#111" stroke-width="2.15" stroke-linecap="round"/>
<line x1="369.07" y1="529.65" x2="374.76" y2="526.71" stroke="#111" stroke-width="2.15" stroke-linecap="round"/>
<line x1="372.06" y1="531.47" x2="377.74" y2="528.53" stroke="#111" stroke-width="2.15" stroke-linecap="round"/>
<line x1="298.66" y1="463.07" x2="304.34" y2="460.13" stroke="#111" stroke-width="2.15" stroke-linecap="round"/>
<line x1="301.66" y1="464.88" x2="307.35" y2="461.94" stroke="#111" stroke-width="2.15" stroke-linecap="round"/>
<line x1="304.67" y1="466.69" x2="310.36" y2="463.75" stroke="#111" stroke-width="2.15" stroke-linecap="round"/>
<line x1="307.68" y1="468.5" x2="313.36" y2="465.56" stroke="#111" stroke-width="2.15" stroke-linecap="round"/>
<line x1="310.68" y1="470.31" x2="316.37" y2="467.37" stroke="#111" stroke-width="2.15" stroke-linecap="round"/>
<line x1="313.69" y1="472.12" x2="319.38" y2="469.18" stroke="#111" stroke-width="2.15" stroke-linecap="round"/>
<line x1="316.7" y1="473.93" x2="322.38" y2="470.99" stroke="#111" stroke-width="2.15" stroke-linecap="round"/>
<line x1="319.7" y1="475.74" x2="325.39" y2="472.8" stroke="#111" stroke-width="2.15" stroke-linecap="round"/>
<line x1="322.71" y1="477.55" x2="328.39" y2="474.61" stroke="#111" stroke-width="2.15" stroke-linecap="round"/>
<line x1="325.72" y1="479.36" x2="331.4" y2="476.42" stroke="#111" stroke-width="2.15" stroke-linecap="round"/>
<line x1="328.72" y1="481.17" x2="334.41" y2="478.23" stroke="#111" stroke-width="2.15" stroke-linecap="round"/>
<line x1="331.73" y1="482.98" x2="337.41" y2="480.04" stroke="#111" stroke-width="2.15" stroke-linecap="round"/>
<line x1="334.73" y1="484.79" x2="340.42" y2="481.85" stroke="#111" stroke-width="2.15" stroke-linecap="round"/>
<line x1="337.74" y1="486.6" x2="343.43" y2="483.66" stroke="#111" stroke-width="2.15" stroke-linecap="round"/>
<line x1="340.75" y1="488.4" x2="346.43" y2="485.47" stroke="#111" stroke-width="2.15" stroke-linecap="round"/>
<line x1="343.75" y1="490.21" x2="349.44" y2="487.28" stroke="#111" stroke-width="2.15" stroke-linecap="round"/>
<line x1="346.76" y1="492.02" x2="352.45" y2="489.09" stroke="#111" stroke-width="2.15" stroke-linecap="round"/>
<line x1="349.77" y1="493.83" x2="355.45" y2="490.9" stroke="#111" stroke-width="2.15" stroke-linecap="round"/>
<line x1="352.77" y1="495.64" x2="358.46" y2="492.7" stroke="#111" stroke-width="2.15" stroke-linecap="round"/>
<line x1="355.78" y1="497.45" x2="361.47" y2="494.51" stroke="#111" stroke-width="2.15" stroke-linecap="round"/>
<line x1="358.79" y1="499.26" x2="364.47" y2="496.32" stroke="#111" stroke-width="2.15" stroke-linecap="round"/>
<line x1="361.79" y1="501.07" x2="367.48" y2="498.13" stroke="#111" stroke-width="2.15" stroke-linecap="round"/>
<line x1="364.8" y1="502.88" x2="370.48" y2="499.94" stroke="#111" stroke-width="2.15" stroke-linecap="round"/>
<line x1="367.81" y1="504.69" x2="373.49" y2="501.75" stroke="#111" stroke-width="2.15" stroke-linecap="round"/>
<line x1="370.81" y1="506.5" x2="376.5" y2="503.56" stroke="#111" stroke-width="2.15" stroke-linecap="round"/>
<line x1="373.82" y1="508.31" x2="379.5" y2="505.37" stroke="#111" stroke-width="2.15" stroke-linecap="round"/>
<line x1="376.82" y1="510.12" x2="382.51" y2="507.18" stroke="#111" stroke-width="2.15" stroke-linecap="round"/>
<line x1="379.83" y1="511.93" x2="385.52" y2="508.99" stroke="#111" stroke-width="2.15" stroke-linecap="round"/>
<line x1="382.84" y1="513.74" x2="388.52" y2="510.8" stroke="#111" stroke-width="2.15" stroke-linecap="round"/>
<line x1="385.84" y1="515.55" x2="391.53" y2="512.61" stroke="#111" stroke-width="2.15" stroke-linecap="round"/>
<line x1="388.85" y1="517.36" x2="394.54" y2="514.42" stroke="#111" stroke-width="2.15" stroke-linecap="round"/>
<line x1="391.86" y1="519.17" x2="397.54" y2="516.23" stroke="#111" stroke-width="2.15" stroke-linecap="round"/>
<line x1="307.46" y1="457.87" x2="313.14" y2="454.93" stroke="#111" stroke-width="2.15" stroke-linecap="round"/>
<line x1="310.46" y1="459.68" x2="316.15" y2="456.74" stroke="#111" stroke-width="2.15" stroke-linecap="round"/>
<line x1="313.47" y1="461.49" x2="319.16" y2="458.55" stroke="#111" stroke-width="2.15" stroke-linecap="round"/>
<line x1="316.48" y1="463.3" x2="322.16" y2="460.36" stroke="#111" stroke-width="2.15" stroke-linecap="round"/>
<line x1="319.48" y1="465.11" x2="325.17" y2="462.17" stroke="#111" stroke-width="2.15" stroke-linecap="round"/>
<line x1="322.49" y1="466.92" x2="328.18" y2="463.98" stroke="#111" stroke-width="2.15" stroke-linecap="round"/>
<line x1="325.5" y1="468.73" x2="331.18" y2="465.79" stroke="#111" stroke-width="2.15" stroke-linecap="round"/>
<line x1="328.5" y1="470.54" x2="334.19" y2="467.6" stroke="#111" stroke-width="2.15" stroke-linecap="round"/>
<line x1="331.51" y1="472.35" x2="337.19" y2="469.41" stroke="#111" stroke-width="2.15" stroke-linecap="round"/>
<line x1="334.52" y1="474.16" x2="340.2" y2="471.22" stroke="#111" stroke-width="2.15" stroke-linecap="round"/>
<line x1="337.52" y1="475.97" x2="343.21" y2="473.03" stroke="#111" stroke-width="2.15" stroke-linecap="round"/>
<line x1="340.53" y1="477.78" x2="346.21" y2="474.84" stroke="#111" stroke-width="2.15" stroke-linecap="round"/>
<line x1="343.53" y1="479.59" x2="349.22" y2="476.65" stroke="#111" stroke-width="2.15" stroke-linecap="round"/>
<line x1="346.54" y1="481.4" x2="352.23" y2="478.46" stroke="#111" stroke-width="2.15" stroke-linecap="round"/>
<line x1="349.55" y1="483.2" x2="355.23" y2="480.27" stroke="#111" stroke-width="2.15" stroke-linecap="round"/>
<line x1="352.55" y1="485.01" x2="358.24" y2="482.08" stroke="#111" stroke-width="2.15" stroke-linecap="round"/>
<line x1="355.56" y1="486.82" x2="361.25" y2="483.89" stroke="#111" stroke-width="2.15" stroke-linecap="round"/>
<line x1="358.57" y1="488.63" x2="364.25" y2="485.7" stroke="#111" stroke-width="2.15" stroke-linecap="round"/>
<line x1="361.57" y1="490.44" x2="367.26" y2="487.5" stroke="#111" stroke-width="2.15" stroke-linecap="round"/>
<line x1="364.58" y1="492.25" x2="370.27" y2="489.31" stroke="#111" stroke-width="2.15" stroke-linecap="round"/>
<line x1="367.59" y1="494.06" x2="373.27" y2="491.12" stroke="#111" stroke-width="2.15" stroke-linecap="round"/>
<line x1="370.59" y1="495.87" x2="376.28" y2="492.93" stroke="#111" stroke-width="2.15" stroke-linecap="round"/>
<line x1="373.6" y1="497.68" x2="379.28" y2="494.74" stroke="#111" stroke-width="2.15" stroke-linecap="round"/>
<line x1="376.61" y1="499.49" x2="382.29" y2="496.55" stroke="#111" stroke-width="2.15" stroke-linecap="round"/>
<line x1="379.61" y1="501.3" x2="385.3" y2="498.36" stroke="#111" stroke-width="2.15" stroke-linecap="round"/>
<line x1="382.62" y1="503.11" x2="388.3" y2="500.17" stroke="#111" stroke-width="2.15" stroke-linecap="round"/>
<line x1="385.62" y1="504.92" x2="391.31" y2="501.98" stroke="#111" stroke-width="2.15" stroke-linecap="round"/>
<line x1="388.63" y1="506.73" x2="394.32" y2="503.79" stroke="#111" stroke-width="2.15" stroke-linecap="round"/>
<line x1="391.64" y1="508.54" x2="397.32" y2="505.6" stroke="#111" stroke-width="2.15" stroke-linecap="round"/>
<line x1="394.64" y1="510.35" x2="400.33" y2="507.41" stroke="#111" stroke-width="2.15" stroke-linecap="round"/>
<line x1="397.65" y1="512.16" x2="403.34" y2="509.22" stroke="#111" stroke-width="2.15" stroke-linecap="round"/>
<line x1="400.66" y1="513.97" x2="406.34" y2="511.03" stroke="#111" stroke-width="2.15" stroke-linecap="round"/>
<line x1="344.1" y1="593" x2="344.1" y2="615" stroke="#1a1a1a" stroke-width="1.0" />
<line x1="395.1" y1="549" x2="395.1" y2="614.5" stroke="#1a1a1a" stroke-width="1.0" />
<path d="M340.64,617.40 L345.74,617.40 L338.86,631.20 " fill="none" stroke="#2e2e2e" stroke-width="1.2" stroke-linecap="round" stroke-linejoin="round"/>
<path d="M392.83,621.21 C393.50,619.00 394.77,617.90 396.05,617.90 C397.58,617.90 398.28,619.28 397.64,622.04 C397.16,624.11 396.22,625.49 394.99,626.87 L390.30,631.70 L395.40,631.70 M407.50,619.56 C407.18,618.31 406.51,617.90 405.75,617.90 C403.96,617.90 402.24,622.04 401.28,626.18 C400.48,629.63 401.02,631.70 402.55,631.70 C404.08,631.70 405.54,629.77 406.12,627.28 C406.70,624.80 406.03,623.28 404.50,623.28 C403.22,623.28 401.85,624.80 401.21,626.46 " fill="none" stroke="#2e2e2e" stroke-width="1.2" stroke-linecap="round" stroke-linejoin="round"/>
<path d="M339.6,581.1 L341.5,586.3 Q344.1,588 346.7,586.3 L348.6,581.1" fill="#fff" stroke="#1a1a1a" stroke-width="1.0" stroke-linejoin="round" stroke-linecap="round" />
<ellipse cx="344.1" cy="581.1" rx="4.5" ry="2.3" fill="#fff" stroke="#1a1a1a" stroke-width="1"/>
<ellipse cx="344.1" cy="581.6" rx="2" ry="1" fill="none" stroke="#1a1a1a" stroke-width="0.8"/>
<polygon points="343.3,450.5 429,397.4 436.8,427.2 343.3,482.9" fill="#fff" stroke="#1a1a1a" stroke-width="1.2" stroke-linejoin="round" />
<line x1="347.8" y1="446.5" x2="428" y2="400.5" stroke="#1a1a1a" stroke-width="1.0" />
<line x1="360.23" y1="451.84" x2="371.37" y2="445.16" stroke="#1e1e1e" stroke-width="2.0" stroke-linecap="round"/>
<line x1="360.23" y1="456.04" x2="371.37" y2="449.36" stroke="#1e1e1e" stroke-width="2.0" stroke-linecap="round"/>
<line x1="360.23" y1="460.24" x2="371.37" y2="453.56" stroke="#1e1e1e" stroke-width="2.0" stroke-linecap="round"/>
<line x1="360.23" y1="464.44" x2="371.37" y2="457.76" stroke="#1e1e1e" stroke-width="2.0" stroke-linecap="round"/>
<line x1="384.03" y1="437.44" x2="395.17" y2="430.76" stroke="#1e1e1e" stroke-width="2.0" stroke-linecap="round"/>
<line x1="384.03" y1="441.64" x2="395.17" y2="434.96" stroke="#1e1e1e" stroke-width="2.0" stroke-linecap="round"/>
<line x1="384.03" y1="445.84" x2="395.17" y2="439.16" stroke="#1e1e1e" stroke-width="2.0" stroke-linecap="round"/>
<line x1="384.03" y1="450.04" x2="395.17" y2="443.36" stroke="#1e1e1e" stroke-width="2.0" stroke-linecap="round"/>
<line x1="407.43" y1="423.04" x2="418.57" y2="416.36" stroke="#1e1e1e" stroke-width="2.0" stroke-linecap="round"/>
<line x1="407.43" y1="427.24" x2="418.57" y2="420.56" stroke="#1e1e1e" stroke-width="2.0" stroke-linecap="round"/>
<line x1="407.43" y1="431.44" x2="418.57" y2="424.76" stroke="#1e1e1e" stroke-width="2.0" stroke-linecap="round"/>
<line x1="407.43" y1="435.64" x2="418.57" y2="428.96" stroke="#1e1e1e" stroke-width="2.0" stroke-linecap="round"/>
<polygon points="213.6,372.5 284.7,416.7 284.7,447.4 213.6,405.1" fill="#fff" stroke="#1a1a1a" stroke-width="1.2" stroke-linejoin="round" />
<polygon points="284.7,416.7 343.3,452.9 343.3,482.9 284.7,448.3" fill="#fff" stroke="#1a1a1a" stroke-width="1.2" stroke-linejoin="round" />
<line x1="222.3" y1="370.6" x2="337.5" y2="437.8" stroke="#1a1a1a" stroke-width="1.1" />
<polygon points="294.3,434.6 300.6,438.4 300.6,444.2 294.3,440.4" fill="none" stroke="#1a1a1a" stroke-width="1.1" stroke-linejoin="round" />
<line x1="305.8" y1="446.4" x2="313.5" y2="449.6" stroke="#1a1a1a" stroke-width="1.4" />
<circle cx="309.6" cy="447.8" r="1.2" fill="#111" stroke="#1a1a1a" stroke-width="1.1"/>
<circle cx="320.2" cy="453.7" r="1.4" fill="none" stroke="#1a1a1a" stroke-width="0.9"/>
<polygon points="326,454.2 332.6,458.2 332.6,464.2 326,460.2" fill="none" stroke="#1a1a1a" stroke-width="1.1" stroke-linejoin="round" />
<path d="M228,397 l1.5,2 M231.5,398.5 l0,0.5 M229,402.5 l0.5,0.5 M234,401.5 l0.5,0.5" stroke="#222" stroke-width="1.3" stroke-linecap="round"/>
<line x1="300" y1="430" x2="304" y2="432.5" stroke="#9ab" stroke-width="1" />
<line x1="310" y1="436" x2="320" y2="442" stroke="#b9a" stroke-width="1" />
<line x1="331" y1="450" x2="336" y2="453" stroke="#cba" stroke-width="1" />
<line x1="252" y1="382.6" x2="306.4" y2="348.4" stroke="#1a1a1a" stroke-width="1.0" />
<line x1="254" y1="384.2" x2="307.8" y2="350.2" stroke="#555" stroke-width="0.8" />
<line x1="306.4" y1="348.4" x2="337.5" y2="366.3" stroke="#1a1a1a" stroke-width="1.0" />
<line x1="306.2" y1="351" x2="337.5" y2="369" stroke="#555" stroke-width="0.8" />
<line x1="224" y1="365" x2="296" y2="324" stroke="#1a1a1a" stroke-width="1.0" />
<line x1="224" y1="367.2" x2="296.5" y2="326.2" stroke="#555" stroke-width="1.0" />
<line x1="224" y1="369.2" x2="297" y2="328.4" stroke="#1a1a1a" stroke-width="1.0" />
<line x1="231.6" y1="367.75" x2="242.4" y2="361.65" stroke="#1a1a1a" stroke-width="2.3" stroke-linecap="round"/>
<line x1="231.6" y1="372.15" x2="242.4" y2="366.05" stroke="#1a1a1a" stroke-width="2.3" stroke-linecap="round"/>
<line x1="231.6" y1="376.55" x2="242.4" y2="370.45" stroke="#1a1a1a" stroke-width="2.3" stroke-linecap="round"/>
<line x1="254.3" y1="356.25" x2="265.1" y2="350.15" stroke="#1a1a1a" stroke-width="2.3" stroke-linecap="round"/>
<line x1="254.3" y1="360.65" x2="265.1" y2="354.55" stroke="#1a1a1a" stroke-width="2.3" stroke-linecap="round"/>
<line x1="254.3" y1="365.05" x2="265.1" y2="358.95" stroke="#1a1a1a" stroke-width="2.3" stroke-linecap="round"/>
<line x1="254.3" y1="369.45" x2="265.1" y2="363.35" stroke="#1a1a1a" stroke-width="2.3" stroke-linecap="round"/>
<line x1="278.1" y1="342.65" x2="288.9" y2="336.55" stroke="#1a1a1a" stroke-width="2.3" stroke-linecap="round"/>
<line x1="278.1" y1="347.05" x2="288.9" y2="340.95" stroke="#1a1a1a" stroke-width="2.3" stroke-linecap="round"/>
<line x1="278.1" y1="351.45" x2="288.9" y2="345.35" stroke="#1a1a1a" stroke-width="2.3" stroke-linecap="round"/>
<line x1="278.1" y1="355.85" x2="288.9" y2="349.75" stroke="#1a1a1a" stroke-width="2.3" stroke-linecap="round"/>
<polyline points="309.4,332.6 312.4,348.6 337.6,363.4" fill="none" stroke="#1a1a1a" stroke-width="1.0" stroke-linejoin="round" />
<ellipse cx="232.0" cy="299.09999999999997" rx="2.6" ry="3.1" transform="rotate(-20 232.0 299.09999999999997)" fill="#1a1a1a"/>
<ellipse cx="234.10000000000002" cy="300.0" rx="1.9" ry="2.6" transform="rotate(-20 234.10000000000002 300.0)" fill="#fff" stroke="#1a1a1a" stroke-width="1.1"/>
<circle cx="234.10000000000002" cy="300.0" r="0.7" fill="#555"/>
<ellipse cx="232.0" cy="330.2" rx="2.6" ry="3.1" transform="rotate(-20 232.0 330.2)" fill="#1a1a1a"/>
<ellipse cx="234.10000000000002" cy="331.1" rx="1.9" ry="2.6" transform="rotate(-20 234.10000000000002 331.1)" fill="#fff" stroke="#1a1a1a" stroke-width="1.1"/>
<circle cx="234.10000000000002" cy="331.1" r="0.7" fill="#555"/>
<line x1="253" y1="306.7" x2="258.3" y2="321" stroke="#3a3a3a" stroke-width="1.0" stroke-linecap="round"/>
<line x1="252.3" y1="311.5" x2="254.6" y2="317.9" stroke="#3a3a3a" stroke-width="1.0" stroke-linecap="round"/>
<line x1="256.2" y1="310" x2="258.7" y2="316.5" stroke="#3a3a3a" stroke-width="1.0" stroke-linecap="round"/>
<line x1="321" y1="277.9" x2="326.3" y2="292.2" stroke="#3a3a3a" stroke-width="1.0" stroke-linecap="round"/>
<line x1="320.3" y1="282.7" x2="322.6" y2="289.1" stroke="#3a3a3a" stroke-width="1.0" stroke-linecap="round"/>
<line x1="324.2" y1="281.2" x2="326.7" y2="287.7" stroke="#3a3a3a" stroke-width="1.0" stroke-linecap="round"/>
<line x1="382.1" y1="352.1" x2="387.4" y2="366.4" stroke="#3a3a3a" stroke-width="1.0" stroke-linecap="round"/>
<line x1="381.4" y1="356.9" x2="383.7" y2="363.3" stroke="#3a3a3a" stroke-width="1.0" stroke-linecap="round"/>
<line x1="385.3" y1="355.4" x2="387.8" y2="361.9" stroke="#3a3a3a" stroke-width="1.0" stroke-linecap="round"/>
<line x1="348.7" y1="349.5" x2="427.3" y2="396.5" stroke="#1a1a1a" stroke-width="1.0" />
<line x1="348.7" y1="351.5" x2="426.5" y2="398" stroke="#777" stroke-width="1.2" />
<line x1="348.7" y1="353.2" x2="425.5" y2="399.3" stroke="#1a1a1a" stroke-width="1.0" />
<line x1="348.7" y1="370.9" x2="406.8" y2="405.8" stroke="#1a1a1a" stroke-width="1.0" />
<line x1="348.7" y1="373.5" x2="404" y2="409" stroke="#1a1a1a" stroke-width="1.0" />
<line x1="349.5" y1="377.7" x2="349.5" y2="442.7" stroke="#1a1a1a" stroke-width="1.0" />
<line x1="371.7" y1="326.7" x2="422.3" y2="357.4" stroke="#777" stroke-width="0.6" />
<ellipse cx="394.9" cy="350.09999999999997" rx="2.6" ry="3.1" transform="rotate(-20 394.9 350.09999999999997)" fill="#1a1a1a"/>
<ellipse cx="397.0" cy="351.0" rx="1.9" ry="2.6" transform="rotate(-20 397.0 351.0)" fill="#fff" stroke="#1a1a1a" stroke-width="1.1"/>
<circle cx="397.0" cy="351.0" r="0.7" fill="#555"/>
<ellipse cx="406.0" cy="374.9" rx="2.6" ry="3.1" transform="rotate(-20 406.0 374.9)" fill="#1a1a1a"/>
<ellipse cx="408.1" cy="375.8" rx="1.9" ry="2.6" transform="rotate(-20 408.1 375.8)" fill="#fff" stroke="#1a1a1a" stroke-width="1.1"/>
<circle cx="408.1" cy="375.8" r="0.7" fill="#555"/>
<ellipse cx="355.59999999999997" cy="374.9" rx="2.6" ry="3.1" transform="rotate(-20 355.59999999999997 374.9)" fill="#1a1a1a"/>
<ellipse cx="357.7" cy="375.8" rx="1.9" ry="2.6" transform="rotate(-20 357.7 375.8)" fill="#fff" stroke="#1a1a1a" stroke-width="1.1"/>
<circle cx="357.7" cy="375.8" r="0.7" fill="#555"/>
<ellipse cx="355.59999999999997" cy="405.59999999999997" rx="2.6" ry="3.1" transform="rotate(-20 355.59999999999997 405.59999999999997)" fill="#1a1a1a"/>
<ellipse cx="357.7" cy="406.5" rx="1.9" ry="2.6" transform="rotate(-20 357.7 406.5)" fill="#fff" stroke="#1a1a1a" stroke-width="1.1"/>
<circle cx="357.7" cy="406.5" r="0.7" fill="#555"/>
<path d="M363.3,329.2 C365.12,328.25 370.25,325.1 374.2,323.5 C378.15,321.9 383.37,320.32 387,319.6 C390.63,318.88 393.22,318.88 396,319.2 C398.78,319.52 400.92,319.83 403.7,321.5 C406.48,323.17 410.13,326.42 412.7,329.2 C415.27,331.98 417.38,334.57 419.1,338.2 C420.82,341.83 422.03,346.52 423,351 C423.97,355.48 424.27,359.97 424.9,365.1 C425.53,370.23 426.18,376.45 426.8,381.8 C427.42,387.15 428.3,394.63 428.6,397.2 " fill="none" stroke="#1a1a1a" stroke-width="1.5" stroke-linejoin="round" stroke-linecap="round" />
<line x1="289.1" y1="251.4" x2="398.5" y2="319.4" stroke="#1a1a1a" stroke-width="1.1" />
<path d="M234.9,249.3 C247,235.5 274,237 289.1,251.4" fill="none" stroke="#1a1a1a" stroke-width="1.3" stroke-linejoin="round" stroke-linecap="round" />
<path d="M236.5,250.3 C248,238 273,239 287.5,251.8" fill="none" stroke="#555" stroke-width="0.8" stroke-linejoin="round" stroke-linecap="round" />
<polygon points="214.3,262.2 234.9,249.3 363.3,329.2 343.9,340.9" fill="none" stroke="#1a1a1a" stroke-width="1.2" stroke-linejoin="round" />
<line x1="236.5" y1="251.6" x2="363.3" y2="331.8" stroke="#333" stroke-width="1.2" />
<line x1="237.5" y1="253.2" x2="362" y2="333" stroke="#777" stroke-width="0.7" />
<polygon points="347.9,342.2 363.3,333.2 363.3,335.6 347.9,344.6" fill="none" stroke="#1a1a1a" stroke-width="0.8" stroke-linejoin="round" />
<line x1="218.6" y1="276.2" x2="338.8" y2="349.5" stroke="#1a1a1a" stroke-width="1.2" />
<line x1="213.6" y1="262.2" x2="213.6" y2="372.5" stroke="#1a1a1a" stroke-width="1.2" />
<line x1="218.6" y1="265" x2="218.6" y2="371" stroke="#1a1a1a" stroke-width="1.1" />
<line x1="221" y1="277.5" x2="221" y2="369" stroke="#1a1a1a" stroke-width="1.8" />
<line x1="223.6" y1="280.2" x2="223.6" y2="368" stroke="#1a1a1a" stroke-width="1.0" />
<line x1="223.9" y1="280.8" x2="296" y2="324" stroke="#1a1a1a" stroke-width="1.0" />
<line x1="338.8" y1="338.5" x2="338.8" y2="450.3" stroke="#1a1a1a" stroke-width="1.2" />
<line x1="343.9" y1="340.9" x2="343.9" y2="452.9" stroke="#1a1a1a" stroke-width="1.1" />
<line x1="347.9" y1="342.2" x2="347.9" y2="449.5" stroke="#1a1a1a" stroke-width="1.2" />
<line x1="337.3" y1="349.5" x2="337.3" y2="438" stroke="#1a1a1a" stroke-width="0.8" />
<line x1="252.3" y1="215" x2="252.3" y2="241.2" stroke="#1a1a1a" stroke-width="1.0" />
<line x1="290.5" y1="216" x2="290.5" y2="264.6" stroke="#1a1a1a" stroke-width="1.0" />
<path d="M247.33,197.91 L250.90,194.60 L247.70,208.40 M261.37,194.60 L257.14,194.60 L255.32,200.67 C256.33,199.84 257.16,199.57 257.92,199.57 C259.71,199.57 260.02,201.50 259.45,203.98 C258.81,206.74 257.40,208.40 255.87,208.40 C254.60,208.40 253.77,207.57 253.90,205.92 " fill="none" stroke="#2e2e2e" stroke-width="1.2" stroke-linecap="round" stroke-linejoin="round"/>
<path d="M289.44,197.91 C290.11,195.70 291.38,194.60 292.66,194.60 C294.19,194.60 294.89,195.98 294.25,198.74 C293.77,200.81 292.84,202.19 291.60,203.57 L286.91,208.40 L292.01,208.40 M299.14,197.91 C299.81,195.70 301.08,194.60 302.36,194.60 C303.89,194.60 304.59,195.98 303.95,198.74 C303.47,200.81 302.54,202.19 301.30,203.57 L296.61,208.40 L301.71,208.40 " fill="none" stroke="#2e2e2e" stroke-width="1.2" stroke-linecap="round" stroke-linejoin="round"/>
<line x1="408" y1="376.5" x2="461.2" y2="376.5" stroke="#1a1a1a" stroke-width="1.0" />
<path d="M466.16,371.91 L469.74,368.60 L466.54,382.40 M474.78,371.08 C475.71,369.29 476.89,368.60 477.91,368.60 C479.44,368.60 480.14,369.98 479.62,372.19 C479.14,374.26 477.93,375.09 475.99,375.09 M475.99,375.09 C477.93,375.09 478.63,376.47 478.09,378.81 C477.51,381.30 476.24,382.40 474.71,382.40 C473.43,382.40 472.57,381.71 472.73,379.92 " fill="none" stroke="#2e2e2e" stroke-width="1.2" stroke-linecap="round" stroke-linejoin="round"/>
<line x1="426.5" y1="422.8" x2="450" y2="422.8" stroke="#1a1a1a" stroke-width="1.0" />
<path d="M457.56,419.01 C458.23,416.80 459.50,415.70 460.78,415.70 C462.31,415.70 463.01,417.08 462.37,419.84 C461.89,421.91 460.96,423.29 459.72,424.67 L455.03,429.50 L460.13,429.50 M472.77,415.70 L468.54,415.70 L466.72,421.77 C467.73,420.94 468.56,420.67 469.33,420.67 C471.11,420.67 471.43,422.60 470.85,425.08 C470.21,427.84 468.81,429.50 467.28,429.50 C466.00,429.50 465.17,428.67 465.30,427.02 " fill="none" stroke="#2e2e2e" stroke-width="1.2" stroke-linecap="round" stroke-linejoin="round"/>
<line x1="337" y1="467.4" x2="437.3" y2="467.4" stroke="#1a1a1a" stroke-width="1.0" />
<path d="M446.18,464.48 C447.10,462.69 448.28,462.00 449.30,462.00 C450.83,462.00 451.53,463.38 451.02,465.59 C450.54,467.66 449.33,468.49 447.39,468.49 M447.39,468.49 C449.33,468.49 450.03,469.87 449.48,472.21 C448.91,474.70 447.63,475.80 446.10,475.80 C444.83,475.80 443.97,475.11 444.13,473.32 " fill="none" stroke="#2e2e2e" stroke-width="1.2" stroke-linecap="round" stroke-linejoin="round"/>
<polygon points="441.9,260.1 562.5,333.2 566.9,360.9 446.3,287.8" fill="#fff" stroke="#1a1a1a" stroke-width="1.1" stroke-linejoin="round" />
<polygon points="407.5,259.5 528.3,333.2 533.4,360.9 412.2,287.6" fill="#fff" stroke="#1a1a1a" stroke-width="1.1" stroke-linejoin="round" />
<line x1="407.5" y1="259.5" x2="528.3" y2="333.2" stroke="#1a1a1a" stroke-width="2.2" />
<line x1="528.3" y1="333.2" x2="533.4" y2="360.9" stroke="#1a1a1a" stroke-width="1.8" />
<line x1="454.9" y1="297.4" x2="460.2" y2="311.7" stroke="#3a3a3a" stroke-width="1.0" stroke-linecap="round"/>
<line x1="454.2" y1="302.2" x2="456.5" y2="308.6" stroke="#3a3a3a" stroke-width="1.0" stroke-linecap="round"/>
<line x1="458.1" y1="300.7" x2="460.6" y2="307.2" stroke="#3a3a3a" stroke-width="1.0" stroke-linecap="round"/>
<polygon points="398.2,264.6 400.6,264 408,290.6 405.6,291.2" fill="#888" stroke="#1a1a1a" stroke-width="1.0" stroke-linejoin="round" />
<polygon points="403.3,264.3 406,263.6 413.2,288 410.6,288.8" fill="#888" stroke="#1a1a1a" stroke-width="1.0" stroke-linejoin="round" />
<line x1="401.5" y1="265" x2="406.5" y2="289" stroke="#222" stroke-width="0.8" />
<line x1="406.8" y1="264.5" x2="411.8" y2="288.3" stroke="#222" stroke-width="0.8" />
<path d="M382.5,215.6 L382.5,281.3 L401.7,281.3" fill="none" stroke="#1a1a1a" stroke-width="1.0" stroke-linejoin="round" stroke-linecap="round" />
<line x1="406.3" y1="215.6" x2="406.3" y2="264.3" stroke="#1a1a1a" stroke-width="1.0" />
<line x1="430.3" y1="215.6" x2="430.3" y2="281.3" stroke="#1a1a1a" stroke-width="1.0" />
<line x1="447.2" y1="254.2" x2="447.2" y2="268.5" stroke="#1a1a1a" stroke-width="1.0" />
<path d="M375.05,198.91 L378.62,195.60 L375.42,209.40 M388.55,197.26 C388.23,196.01 387.56,195.60 386.79,195.60 C385.01,195.60 383.28,199.74 382.32,203.88 C381.52,207.33 382.06,209.40 383.59,209.40 C385.12,209.40 386.59,207.47 387.17,204.98 C387.74,202.50 387.07,200.98 385.54,200.98 C384.27,200.98 382.90,202.50 382.26,204.16 " fill="none" stroke="#2e2e2e" stroke-width="1.2" stroke-linecap="round" stroke-linejoin="round"/>
<path d="M400.40,198.91 L403.98,195.60 L400.78,209.40 M409.60,195.60 L414.70,195.60 L407.82,209.40 " fill="none" stroke="#2e2e2e" stroke-width="1.2" stroke-linecap="round" stroke-linejoin="round"/>
<path d="M424.96,198.91 L428.53,195.60 L425.33,209.40 M435.23,201.95 C433.55,201.95 433.25,200.57 433.67,198.77 C434.15,196.70 435.43,195.60 436.70,195.60 C437.98,195.60 438.74,196.70 438.26,198.77 C437.85,200.57 436.91,201.95 435.23,201.95 C433.44,201.95 432.30,203.60 431.82,205.67 C431.27,208.02 431.97,209.40 433.50,209.40 C435.03,209.40 436.37,208.02 436.92,205.67 C437.40,203.60 437.01,201.95 435.23,201.95 Z " fill="none" stroke="#2e2e2e" stroke-width="1.2" stroke-linecap="round" stroke-linejoin="round"/>
<path d="M442.94,236.51 L446.52,233.20 L443.32,247.00 M449.73,245.34 C450.05,246.59 450.72,247.00 451.49,247.00 C453.27,247.00 455.00,242.86 455.96,238.72 C456.76,235.27 456.22,233.20 454.69,233.20 C453.16,233.20 451.69,235.13 451.11,237.62 C450.54,240.10 451.20,241.62 452.73,241.62 C454.01,241.62 455.38,240.10 456.02,238.44 " fill="none" stroke="#2e2e2e" stroke-width="1.2" stroke-linecap="round" stroke-linejoin="round"/>
<path d="M102.4,473.6 C93,479 88,490 85.5,503 C84,506 80,507 70,505 C58,503 44,498 34,493 C24,488 22,494 30,497 C42,501 60,503 72,506 C80,508 85,506 86,503" fill="none" stroke="#1e1e1e" stroke-width="3.4" stroke-linejoin="round" stroke-linecap="round" />
<path d="M102.4,473.6 C93,479 88,490 85.5,503 C84,506 80,507 70,505 C58,503 44,498 34,493 C24,488 22,494 30,497 C42,501 60,503 72,506 C80,508 85,506 86,503" fill="none" stroke="#cfcfcf" stroke-width="1.4" stroke-linejoin="round" stroke-linecap="round" />
<path d="M86,503 C84,510 78,512 70,509 C62,506 52,500 40,495 C30,490 26,486 34,487 C44,488 56,494 64,500" fill="none" stroke="#1e1e1e" stroke-width="3.4" stroke-linejoin="round" stroke-linecap="round" />
<path d="M86,503 C84,510 78,512 70,509 C62,506 52,500 40,495 C30,490 26,486 34,487 C44,488 56,494 64,500" fill="none" stroke="#cfcfcf" stroke-width="1.4" stroke-linejoin="round" stroke-linecap="round" />
<polygon points="47.5,503 58,496.5 60,499 49.5,505.5" fill="#222" stroke="#1a1a1a" stroke-width="0.8" stroke-linejoin="round" />
<polygon points="68.5,511 72.5,509 79,512 80,517 75,519.5 69,516" fill="#fff" stroke="#1a1a1a" stroke-width="1.0" stroke-linejoin="round" />
<polygon points="68.5,511 72.5,509 74,513 70,515.5" fill="#222" stroke="#1a1a1a" stroke-width="0.8" stroke-linejoin="round" />
<line x1="72" y1="518" x2="72" y2="525" stroke="#1a1a1a" stroke-width="1.6" />
<line x1="76.5" y1="518" x2="76.5" y2="524.5" stroke="#1a1a1a" stroke-width="1.6" />
<line x1="52.1" y1="510" x2="52.1" y2="566" stroke="#1a1a1a" stroke-width="1.0" />
<path d="M46.96,573.21 L50.54,569.90 L47.34,583.70 " fill="none" stroke="#2e2e2e" stroke-width="1.2" stroke-linecap="round" stroke-linejoin="round"/>
<ellipse cx="126.6" cy="459.3" rx="5.2" ry="5.6" fill="#2a2a2a"/>
<ellipse cx="125.3" cy="460.5" rx="2.6" ry="2.9" fill="#777"/>
<ellipse cx="125.3" cy="460.5" rx="1.2" ry="1.3" fill="#222"/>
<line x1="86.2" y1="457.3" x2="121.6" y2="457.3" stroke="#1a1a1a" stroke-width="1.0" />
<path d="M68.59,454.41 C69.26,452.20 70.54,451.10 71.81,451.10 C73.34,451.10 74.04,452.48 73.40,455.24 C72.92,457.31 71.99,458.69 70.75,460.07 L66.06,464.90 L71.16,464.90 " fill="none" stroke="#2e2e2e" stroke-width="1.2" stroke-linecap="round" stroke-linejoin="round"/>
<polygon points="185.4,449.6 199.8,441.2 209.2,446.8 194.8,455.2" fill="#fff" stroke="#1a1a1a" stroke-width="1.0" stroke-linejoin="round" />
<polygon points="185.4,449.6 194.8,455.2 194.8,457.6 185.4,452" fill="#fff" stroke="#1a1a1a" stroke-width="1.0" stroke-linejoin="round" />
<polygon points="194.8,455.2 209.2,446.8 209.2,449.2 194.8,457.6" fill="#fff" stroke="#1a1a1a" stroke-width="1.0" stroke-linejoin="round" />
<polygon points="186.3,453 193.5,457.3 193.5,461.5 186.3,457.2" fill="#fff" stroke="#1a1a1a" stroke-width="1.0" stroke-linejoin="round" />
<line x1="188" y1="456" x2="191.5" y2="458.2" stroke="#1a1a1a" stroke-width="1.3" />
<polygon points="190.7,440.5 197.3,436.8 203.5,440.6 196.9,444.3" fill="#fff" stroke="#1a1a1a" stroke-width="1.1" stroke-linejoin="round" />
<polygon points="190.7,440.5 196.9,444.3 196.9,450.2 190.7,446.4" fill="#333" stroke="#1a1a1a" stroke-width="1.1" stroke-linejoin="round" />
<polygon points="196.9,444.3 203.5,440.6 203.5,446.5 196.9,450.2" fill="#fff" stroke="#1a1a1a" stroke-width="1.1" stroke-linejoin="round" />
<polygon points="193.5,440.2 197.2,438.2 200.8,440.4 197.1,442.4" fill="#666" stroke="#1a1a1a" stroke-width="0.8" stroke-linejoin="round" />
<path d="M160,416.9 L195.8,416.9 L195.8,436.8" fill="none" stroke="#1a1a1a" stroke-width="1.0" stroke-linejoin="round" stroke-linecap="round" />
<line x1="160" y1="449.4" x2="185.9" y2="449.4" stroke="#1a1a1a" stroke-width="1.0" />
<path d="M142.87,413.81 C143.54,411.60 144.81,410.50 146.09,410.50 C147.62,410.50 148.32,411.88 147.68,414.64 C147.20,416.71 146.27,418.09 145.03,419.47 L140.34,424.30 L145.44,424.30 M150.83,422.64 C151.16,423.89 151.82,424.30 152.59,424.30 C154.38,424.30 156.10,420.16 157.06,416.02 C157.86,412.57 157.32,410.50 155.79,410.50 C154.26,410.50 152.79,412.43 152.22,414.92 C151.64,417.40 152.31,418.92 153.84,418.92 C155.11,418.92 156.48,417.40 157.12,415.74 " fill="none" stroke="#2e2e2e" stroke-width="1.2" stroke-linecap="round" stroke-linejoin="round"/>
<path d="M142.68,445.38 C143.60,443.59 144.78,442.90 145.80,442.90 C147.33,442.90 148.03,444.28 147.52,446.49 C147.04,448.56 145.83,449.39 143.89,449.39 M143.89,449.39 C145.83,449.39 146.53,450.77 145.98,453.11 C145.41,455.60 144.13,456.70 142.60,456.70 C141.33,456.70 140.47,456.01 140.63,454.22 M151.99,447.04 C152.63,444.28 153.97,442.90 155.50,442.90 C157.03,442.90 157.73,444.28 157.09,447.04 L155.81,452.56 C155.17,455.32 153.83,456.70 152.30,456.70 C150.77,456.70 150.07,455.32 150.71,452.56 Z " fill="none" stroke="#2e2e2e" stroke-width="1.2" stroke-linecap="round" stroke-linejoin="round"/>
<polygon points="201.2,502.5 208.3,498.3 215.2,502.6 214.6,512.3 207.8,516.5 200.9,512.3" fill="#fff" stroke="#1a1a1a" stroke-width="1.2" stroke-linejoin="round" />
<polygon points="201.2,502.5 207.9,506.5 207.8,516.5 200.9,512.3" fill="#fff" stroke="#1a1a1a" stroke-width="1.0" stroke-linejoin="round" />
<polygon points="202.3,504.5 206.6,507 206.6,510.5 202.3,508" fill="#222" stroke="#1a1a1a" stroke-width="1.0" stroke-linejoin="round" />
<polygon points="202.3,509.5 206.6,512 206.6,514.5 202.3,512" fill="#444" stroke="#1a1a1a" stroke-width="1.0" stroke-linejoin="round" />
<line x1="203" y1="504.5" x2="206.5" y2="506.8" stroke="#ddd" stroke-width="1.2" />
<line x1="203" y1="509" x2="206.5" y2="511.2" stroke="#ddd" stroke-width="1.2" />
<line x1="210.2" y1="505.5" x2="210.2" y2="513.8" stroke="#222" stroke-width="1.0" />
<line x1="212.6" y1="504.2" x2="212.6" y2="512.3" stroke="#222" stroke-width="1.0" />
<polygon points="168.6,511.5 174.5,508.6 179,511.6 178.6,519.4 172.6,522.3 168.3,519.3" fill="#2a2a2a" stroke="#1a1a1a" stroke-width="1.0" stroke-linejoin="round" />
<line x1="170" y1="514" x2="173.5" y2="516.5" stroke="#ccc" stroke-width="1.1" />
<line x1="170" y1="517.5" x2="173.5" y2="519.7" stroke="#ccc" stroke-width="1.0" />
<ellipse cx="184.7" cy="523.5" rx="4.8" ry="7.4" transform="rotate(-15 184.7 523.5)" fill="#fff" stroke="#1a1a1a" stroke-width="0.9"/>
<ellipse cx="181" cy="525.4" rx="5.8" ry="6.2" fill="#2a2a2a"/>
<ellipse cx="180.3" cy="525.8" rx="2.6" ry="2.8" fill="#888"/>
<ellipse cx="180.1" cy="526" rx="1.1" ry="1.3" fill="#222"/>
<line x1="186.2" y1="531.6" x2="193.4" y2="531.2" stroke="#1a1a1a" stroke-width="1.0" />
<polygon points="193.6,529.6 200.2,525.6 202.4,527.4 195.6,532.4" fill="#fff" stroke="#1a1a1a" stroke-width="1.0" stroke-linejoin="round" />
<polygon points="200.3,532 206,528.6 210.3,531.8 209.8,538 204.2,541.2 200.1,538.2" fill="#2a2a2a" stroke="#1a1a1a" stroke-width="1.0" stroke-linejoin="round" />
<line x1="202" y1="534" x2="205.2" y2="536" stroke="#ccc" stroke-width="1.0" />
<path d="M110.3,566 L110.3,501.4 L199,501.4" fill="none" stroke="#1a1a1a" stroke-width="1.0" stroke-linejoin="round" stroke-linecap="round" />
<path d="M131.6,566 L131.6,517.3 L166.4,517.3" fill="none" stroke="#1a1a1a" stroke-width="1.0" stroke-linejoin="round" stroke-linecap="round" />
<path d="M152.9,566 L152.9,527.2 L173.5,527.2" fill="none" stroke="#1a1a1a" stroke-width="1.0" stroke-linejoin="round" stroke-linecap="round" />
<line x1="177.1" y1="531.2" x2="177.1" y2="566" stroke="#1a1a1a" stroke-width="1.0" />
<path d="M193.4,566 L193.4,536.7 L200.1,536.7" fill="none" stroke="#1a1a1a" stroke-width="1.0" stroke-linejoin="round" stroke-linecap="round" />
<path d="M99.61,573.21 L103.19,569.90 L99.99,583.70 M107.85,574.04 C108.49,571.28 109.83,569.90 111.36,569.90 C112.89,569.90 113.59,571.28 112.95,574.04 L111.67,579.56 C111.03,582.32 109.69,583.70 108.16,583.70 C106.63,583.70 105.93,582.32 106.57,579.56 Z " fill="none" stroke="#2e2e2e" stroke-width="1.2" stroke-linecap="round" stroke-linejoin="round"/>
<path d="M130.11,583.70 L133.31,569.90 L127.09,579.56 L132.19,579.56 " fill="none" stroke="#2e2e2e" stroke-width="1.2" stroke-linecap="round" stroke-linejoin="round"/>
<path d="M156.10,569.90 L151.87,569.90 L150.05,575.97 C151.06,575.14 151.89,574.87 152.65,574.87 C154.44,574.87 154.75,576.80 154.18,579.28 C153.54,582.04 152.13,583.70 150.60,583.70 C149.33,583.70 148.50,582.87 148.63,581.22 " fill="none" stroke="#2e2e2e" stroke-width="1.2" stroke-linecap="round" stroke-linejoin="round"/>
<path d="M178.66,571.56 C178.34,570.31 177.67,569.90 176.91,569.90 C175.12,569.90 173.40,574.04 172.44,578.18 C171.64,581.63 172.18,583.70 173.71,583.70 C175.24,583.70 176.70,581.77 177.28,579.28 C177.86,576.80 177.19,575.28 175.66,575.28 C174.38,575.28 173.01,576.80 172.37,578.46 " fill="none" stroke="#2e2e2e" stroke-width="1.2" stroke-linecap="round" stroke-linejoin="round"/>
<path d="M192.22,572.38 C193.14,570.59 194.32,569.90 195.34,569.90 C196.87,569.90 197.57,571.28 197.06,573.49 C196.58,575.56 195.37,576.39 193.43,576.39 M193.43,576.39 C195.37,576.39 196.07,577.77 195.52,580.11 C194.95,582.60 193.67,583.70 192.14,583.70 C190.87,583.70 190.01,583.01 190.17,581.22 M202.49,569.90 L207.59,569.90 L200.72,583.70 " fill="none" stroke="#2e2e2e" stroke-width="1.2" stroke-linecap="round" stroke-linejoin="round"/>
<polygon points="650.4,433.3 661.6,436.8 657.4,447.3 646.3,443.8" fill="#fff" stroke="#1a1a1a" stroke-width="1.0" stroke-linejoin="round" />
<line x1="651.6" y1="437" x2="649.8" y2="442" stroke="#222" stroke-width="1.8" />
<circle cx="655" cy="440.5" r="0.8" fill="#222" stroke="#1a1a1a" stroke-width="1.1"/>
<polygon points="659.5,438.9 669.9,444.5 666.4,452.8 656.7,447.3" fill="#fff" stroke="#1a1a1a" stroke-width="1.0" stroke-linejoin="round" />
<ellipse cx="658" cy="443" rx="1.8" ry="4.3" transform="rotate(25 658 443)" fill="#333"/>
<ellipse cx="668.3" cy="448.7" rx="1.6" ry="4.2" transform="rotate(25 668.3 448.7)" fill="#444"/>
<circle cx="674.1" cy="451.4" r="7.1" fill="#fff" stroke="#1a1a1a" stroke-width="1.0"/>
<path d="M650,341 L650,433.3 M686,341 L650,341" fill="none" stroke="#1a1a1a" stroke-width="1.0" stroke-linejoin="round" stroke-linecap="round" />
<path d="M664.7,369.3 L684.7,369.3 M664.7,369.3 L664.7,443" fill="none" stroke="#1a1a1a" stroke-width="1.0" stroke-linejoin="round" stroke-linecap="round" />
<path d="M677,404.7 L688.5,404.7 M677,404.7 L677,451.4" fill="none" stroke="#1a1a1a" stroke-width="1.0" stroke-linejoin="round" stroke-linecap="round" />
<path d="M693.81,335.08 C694.74,333.29 695.92,332.60 696.94,332.60 C698.47,332.60 699.17,333.98 698.66,336.19 C698.18,338.26 696.96,339.09 695.03,339.09 M695.03,339.09 C696.96,339.09 697.66,340.47 697.12,342.81 C696.54,345.30 695.27,346.40 693.74,346.40 C692.46,346.40 691.60,345.71 691.76,343.92 M708.40,334.26 C708.07,333.01 707.40,332.60 706.64,332.60 C704.85,332.60 703.13,336.74 702.17,340.88 C701.37,344.33 701.91,346.40 703.44,346.40 C704.97,346.40 706.44,344.47 707.01,341.98 C707.59,339.50 706.92,337.98 705.39,337.98 C704.12,337.98 702.74,339.50 702.10,341.16 " fill="none" stroke="#2e2e2e" stroke-width="1.2" stroke-linecap="round" stroke-linejoin="round"/>
<path d="M695.53,366.61 C696.20,364.40 697.48,363.30 698.75,363.30 C700.28,363.30 700.98,364.68 700.34,367.44 C699.86,369.51 698.93,370.89 697.69,372.27 L693.00,377.10 L698.10,377.10 M705.90,363.30 L711.00,363.30 L704.13,377.10 " fill="none" stroke="#2e2e2e" stroke-width="1.2" stroke-linecap="round" stroke-linejoin="round"/>
<path d="M696.29,403.91 C696.95,401.70 698.23,400.60 699.51,400.60 C701.04,400.60 701.74,401.98 701.10,404.74 C700.62,406.81 699.68,408.19 698.45,409.57 L693.76,414.40 L698.86,414.40 M707.73,406.95 C706.05,406.95 705.76,405.57 706.17,403.77 C706.65,401.70 707.93,400.60 709.21,400.60 C710.48,400.60 711.24,401.70 710.76,403.77 C710.35,405.57 709.42,406.95 707.73,406.95 C705.95,406.95 704.80,408.60 704.32,410.67 C703.78,413.02 704.48,414.40 706.01,414.40 C707.54,414.40 708.88,413.02 709.42,410.67 C709.90,408.60 709.52,406.95 707.73,406.95 Z " fill="none" stroke="#2e2e2e" stroke-width="1.2" stroke-linecap="round" stroke-linejoin="round"/>
<circle cx="719.6" cy="479.3" r="6.3" fill="#fff" stroke="#1a1a1a" stroke-width="1.0"/>
<path d="M716.4,474 Q713.6,479.5 717,484.8" fill="none" stroke="#1a1a1a" stroke-width="0.8" stroke-linejoin="round" stroke-linecap="round" />
<polygon points="723.5,476.5 731.5,480.5 728.4,488.4 720.8,484.4" fill="#fff" stroke="#1a1a1a" stroke-width="1.0" stroke-linejoin="round" />
<polygon points="729,482 740.1,484.8 736,495.2 724.8,491.8" fill="#fff" stroke="#1a1a1a" stroke-width="1.0" stroke-linejoin="round" />
<line x1="731" y1="486" x2="729" y2="491" stroke="#222" stroke-width="1.8" />
<circle cx="735" cy="490" r="0.8" fill="#222" stroke="#1a1a1a" stroke-width="1.1"/>
<polygon points="466.9,527.8 587.1,599.3 587.1,610.3 467.9,538.7" fill="#fff" stroke="#1a1a1a" stroke-width="1.1" stroke-linejoin="round" />
<line x1="467.5" y1="531.5" x2="587.1" y2="602.8" stroke="#333" stroke-width="0.9" />
<line x1="467.5" y1="535" x2="587.1" y2="606.5" stroke="#333" stroke-width="0.9" />
<polygon points="588.5,592 655.4,548.6 641.9,581.2 615.6,596.3 615.6,598.5 588.6,611.4" fill="#fff" stroke="#1a1a1a" stroke-width="1.1" stroke-linejoin="round" />
<circle cx="624.6" cy="571.5" r="0.8" fill="#222" stroke="#1a1a1a" stroke-width="1.1"/>
<circle cx="627.4" cy="570.5" r="0.8" fill="#222" stroke="#1a1a1a" stroke-width="1.1"/>
<circle cx="628.3" cy="585.3" r="0.8" fill="#222" stroke="#1a1a1a" stroke-width="1.1"/>
<polygon points="454.5,511.5 533.1,463.8 665.7,540.7 587.1,588.4" fill="#fff" stroke="#1a1a1a" stroke-width="1.4" stroke-linejoin="round" />
<polygon points="458.81,511.46 533.13,466.36 661.39,540.74 587.07,585.84" fill="none" stroke="#1a1a1a" stroke-width="1.0" stroke-linejoin="round" />
<line x1="455.5" y1="516.6" x2="577.5" y2="589.2" stroke="#111" stroke-width="3.0" />
<line x1="456" y1="519.2" x2="575" y2="590.6" stroke="#333" stroke-width="0.9" />
<line x1="588.6" y1="589.4" x2="663.7" y2="542.2" stroke="#1a1a1a" stroke-width="2.0" />
<line x1="463.32" y1="511.41" x2="533.15" y2="469.03" stroke="#333" stroke-width="0.8" />
<line x1="533.15" y1="469.03" x2="656.88" y2="540.79" stroke="#333" stroke-width="0.8" />
<line x1="574.4" y1="500" x2="650.2" y2="543.9" stroke="#333" stroke-width="0.8" />
<line x1="491.7" y1="523.4" x2="589.9" y2="581.3" stroke="#1a1a1a" stroke-width="1.0" />
<line x1="605.4" y1="568.8" x2="650.2" y2="543.9" stroke="#1a1a1a" stroke-width="0.9" />
<circle cx="565.7" cy="535.5" r="0.7" fill="#333" stroke="#1a1a1a" stroke-width="1.1"/>
<circle cx="599.7" cy="556.4" r="0.7" fill="#333" stroke="#1a1a1a" stroke-width="1.1"/>
<circle cx="624" cy="560" r="0.7" fill="#333" stroke="#1a1a1a" stroke-width="1.1"/>
<line x1="504.4" y1="501.7" x2="615.7" y2="567.4" stroke="#1a1a1a" stroke-width="1.0" />
<line x1="504.9" y1="505.9" x2="612" y2="569.1" stroke="#1a1a1a" stroke-width="1.0" />
<path d="M525.6,460.1 C521.35,462.58 505.15,471.98 500.1,475 C495.05,478.02 495.9,477.07 495.3,478.2 C494.7,479.33 495.62,480.9 496.5,481.8 C497.38,482.7 496.28,481.32 500.6,483.6 C504.92,485.88 518.27,493 522.4,495.5 C526.53,498 525.17,497.48 525.4,498.6 C525.63,499.72 525.02,501.37 523.8,502.2 C522.58,503.03 519.05,503.37 518.1,503.6 " fill="none" stroke="#1a1a1a" stroke-width="2.7" stroke-linejoin="round" stroke-linecap="round" />
<path d="M525.6,460.1 C521.35,462.58 505.15,471.98 500.1,475 C495.05,478.02 495.9,477.07 495.3,478.2 C494.7,479.33 495.62,480.9 496.5,481.8 C497.38,482.7 496.28,481.32 500.6,483.6 C504.92,485.88 518.27,493 522.4,495.5 C526.53,498 525.17,497.48 525.4,498.6 C525.63,499.72 525.02,501.37 523.8,502.2 C522.58,503.03 519.05,503.37 518.1,503.6 " fill="none" stroke="#fff" stroke-width="1.1" stroke-linejoin="round" stroke-linecap="round" />
<path d="M556.3,481.3 C553.47,480.07 543.55,475.13 539.3,473.9 C535.05,472.67 533.62,473.02 530.8,473.9 C527.98,474.78 523.98,477.25 522.4,479.2 C520.82,481.15 520.77,483.67 521.3,485.6 C521.83,487.53 522.95,489.65 525.6,490.8 C528.25,491.95 533.5,492.77 537.2,492.5 C540.9,492.23 544.8,490.72 547.8,489.2 C550.8,487.68 553.97,484.37 555.2,483.4 " fill="none" stroke="#1a1a1a" stroke-width="2.7" stroke-linejoin="round" stroke-linecap="round" />
<path d="M556.3,481.3 C553.47,480.07 543.55,475.13 539.3,473.9 C535.05,472.67 533.62,473.02 530.8,473.9 C527.98,474.78 523.98,477.25 522.4,479.2 C520.82,481.15 520.77,483.67 521.3,485.6 C521.83,487.53 522.95,489.65 525.6,490.8 C528.25,491.95 533.5,492.77 537.2,492.5 C540.9,492.23 544.8,490.72 547.8,489.2 C550.8,487.68 553.97,484.37 555.2,483.4 " fill="none" stroke="#fff" stroke-width="1.1" stroke-linejoin="round" stroke-linecap="round" />
<path d="M573.2,491.9 C571.08,492.97 563.5,496.28 560.5,498.3 C557.5,500.32 555.73,501.88 555.2,504 C554.67,506.12 555.35,509.3 557.3,511 C559.25,512.7 563.18,514.03 566.9,514.2 C570.62,514.37 575.72,513.77 579.6,512 C583.48,510.23 588.13,505.43 590.2,503.6 C592.27,501.77 591.7,501.43 592,501 " fill="none" stroke="#1a1a1a" stroke-width="2.7" stroke-linejoin="round" stroke-linecap="round" />
<path d="M573.2,491.9 C571.08,492.97 563.5,496.28 560.5,498.3 C557.5,500.32 555.73,501.88 555.2,504 C554.67,506.12 555.35,509.3 557.3,511 C559.25,512.7 563.18,514.03 566.9,514.2 C570.62,514.37 575.72,513.77 579.6,512 C583.48,510.23 588.13,505.43 590.2,503.6 C592.27,501.77 591.7,501.43 592,501 " fill="none" stroke="#fff" stroke-width="1.1" stroke-linejoin="round" stroke-linecap="round" />
<path d="M536.1,514.2 C537.35,513.67 541.3,511.45 543.6,511 C545.9,510.55 544.25,508.85 549.9,511.5 C555.55,514.15 572.2,524.17 577.5,526.9 C582.8,529.63 576.77,530.2 581.7,527.9 C586.63,525.6 602.87,515.57 607.1,513.1 " fill="none" stroke="#1a1a1a" stroke-width="2.7" stroke-linejoin="round" stroke-linecap="round" />
<path d="M536.1,514.2 C537.35,513.67 541.3,511.45 543.6,511 C545.9,510.55 544.25,508.85 549.9,511.5 C555.55,514.15 572.2,524.17 577.5,526.9 C582.8,529.63 576.77,530.2 581.7,527.9 C586.63,525.6 602.87,515.57 607.1,513.1 " fill="none" stroke="#fff" stroke-width="1.1" stroke-linejoin="round" stroke-linecap="round" />
<line x1="536.1" y1="471.8" x2="527.7" y2="493" stroke="#1a1a1a" stroke-width="1.0" />
<path d="M530.8,461.2 C530.7,460.13 529.48,456.5 530.2,454.8 C530.92,453.1 532.87,451.7 535.1,451 C537.33,450.3 540.95,450.25 543.6,450.6 C546.25,450.95 549.32,451.87 551,453.1 C552.68,454.33 553.7,456.3 553.7,458 C553.7,459.7 552.05,462 551,463.3 C549.95,464.6 548,465.38 547.4,465.8 " fill="none" stroke="#1a1a1a" stroke-width="2.7" stroke-linejoin="round" stroke-linecap="round" />
<path d="M530.8,461.2 C530.7,460.13 529.48,456.5 530.2,454.8 C530.92,453.1 532.87,451.7 535.1,451 C537.33,450.3 540.95,450.25 543.6,450.6 C546.25,450.95 549.32,451.87 551,453.1 C552.68,454.33 553.7,456.3 553.7,458 C553.7,459.7 552.05,462 551,463.3 C549.95,464.6 548,465.38 547.4,465.8 " fill="none" stroke="#fff" stroke-width="1.1" stroke-linejoin="round" stroke-linecap="round" />
<path d="M563.7,478.1 C563.87,477.4 563.47,474.95 564.7,473.9 C565.93,472.85 568.62,472.08 571.1,471.8 C573.58,471.52 577.13,471.57 579.6,472.2 C582.07,472.83 584.67,474.25 585.9,475.6 C587.13,476.95 587.35,478.75 587,480.3 C586.65,481.85 585.03,483.78 583.8,484.9 C582.57,486.02 580.3,486.65 579.6,487 " fill="none" stroke="#1a1a1a" stroke-width="2.7" stroke-linejoin="round" stroke-linecap="round" />
<path d="M563.7,478.1 C563.87,477.4 563.47,474.95 564.7,473.9 C565.93,472.85 568.62,472.08 571.1,471.8 C573.58,471.52 577.13,471.57 579.6,472.2 C582.07,472.83 584.67,474.25 585.9,475.6 C587.13,476.95 587.35,478.75 587,480.3 C586.65,481.85 585.03,483.78 583.8,484.9 C582.57,486.02 580.3,486.65 579.6,487 " fill="none" stroke="#fff" stroke-width="1.1" stroke-linejoin="round" stroke-linecap="round" />
<path d="M597.6,498.3 C597.77,497.7 597.37,495.67 598.6,494.7 C599.83,493.73 602.52,492.78 605,492.5 C607.48,492.22 611.03,492.4 613.5,493 C615.97,493.6 618.57,494.77 619.8,496.1 C621.03,497.43 621.25,499.4 620.9,501 C620.55,502.6 618.87,504.57 617.7,505.7 C616.53,506.83 614.53,507.45 613.9,507.8 " fill="none" stroke="#1a1a1a" stroke-width="2.7" stroke-linejoin="round" stroke-linecap="round" />
<path d="M597.6,498.3 C597.77,497.7 597.37,495.67 598.6,494.7 C599.83,493.73 602.52,492.78 605,492.5 C607.48,492.22 611.03,492.4 613.5,493 C615.97,493.6 618.57,494.77 619.8,496.1 C621.03,497.43 621.25,499.4 620.9,501 C620.55,502.6 618.87,504.57 617.7,505.7 C616.53,506.83 614.53,507.45 613.9,507.8 " fill="none" stroke="#fff" stroke-width="1.1" stroke-linejoin="round" stroke-linecap="round" />
<circle cx="518.3" cy="503.6" r="2.7" fill="#111" stroke="#1a1a1a" stroke-width="1.1"/>
<circle cx="536.1" cy="514.2" r="2.7" fill="#111" stroke="#1a1a1a" stroke-width="1.1"/>
<line x1="516.5" y1="507" x2="491.7" y2="523.4" stroke="#1a1a1a" stroke-width="1.0" />
<line x1="515.5" y1="509.5" x2="493.5" y2="524" stroke="#1a1a1a" stroke-width="0.8" />
<line x1="534" y1="516" x2="528.2" y2="520.2" stroke="#1a1a1a" stroke-width="1.0" />
<polygon points="503.3,498 506.8,495.5 507.3,497.2 505,499 505.6,503.8 511.5,507.3 509.3,508.6 503.6,505" fill="#fff" stroke="#1a1a1a" stroke-width="0.9" stroke-linejoin="round" />
<polygon points="515,451.7 517.6,450.5 618.8,511.2 616.7,512.6" fill="#fff" stroke="#1a1a1a" stroke-width="1.1" stroke-linejoin="round" />
<polygon points="515,451.7 616.7,512.6 614.8,515.8 513.9,455" fill="#fff" stroke="#1a1a1a" stroke-width="1.1" stroke-linejoin="round" />
<line x1="532.5" y1="461.8" x2="530.5" y2="465" stroke="#1a1a1a" stroke-width="1.0" />
<line x1="566.5" y1="482.2" x2="564.5" y2="485.4" stroke="#1a1a1a" stroke-width="1.0" />
<line x1="600.5" y1="502.5" x2="598.5" y2="505.7" stroke="#1a1a1a" stroke-width="1.0" />
<path d="M619,500.3 L619,483 L663.8,483" fill="none" stroke="#1a1a1a" stroke-width="1.0" stroke-linejoin="round" stroke-linecap="round" />
<line x1="615.6" y1="513" x2="665.5" y2="513" stroke="#1a1a1a" stroke-width="1.0" />
<line x1="641.9" y1="566.1" x2="665.5" y2="566.1" stroke="#1a1a1a" stroke-width="1.0" />
<line x1="512" y1="563.2" x2="512" y2="615.6" stroke="#1a1a1a" stroke-width="1.0" />
<line x1="558.9" y1="573.5" x2="558.9" y2="615.6" stroke="#1a1a1a" stroke-width="1.0" />
<path d="M668.49,487.44 C668.81,488.69 669.48,489.10 670.24,489.10 C672.03,489.10 673.75,484.96 674.71,480.82 C675.51,477.37 674.97,475.30 673.44,475.30 C671.91,475.30 670.45,477.23 669.87,479.72 C669.29,482.20 669.96,483.72 671.49,483.72 C672.77,483.72 674.14,482.20 674.78,480.54 " fill="none" stroke="#2e2e2e" stroke-width="1.2" stroke-linecap="round" stroke-linejoin="round"/>
<path d="M670.29,509.08 C671.22,507.29 672.40,506.60 673.42,506.60 C674.95,506.60 675.65,507.98 675.14,510.19 C674.66,512.26 673.45,513.09 671.51,513.09 M671.51,513.09 C673.45,513.09 674.15,514.47 673.60,516.81 C673.03,519.30 671.75,520.40 670.22,520.40 C668.94,520.40 668.08,519.71 668.25,517.92 M685.42,506.60 L681.18,506.60 L679.37,512.67 C680.37,511.84 681.20,511.57 681.97,511.57 C683.75,511.57 684.07,513.50 683.49,515.98 C682.85,518.74 681.45,520.40 679.92,520.40 C678.64,520.40 677.82,519.57 677.95,517.92 " fill="none" stroke="#2e2e2e" stroke-width="1.2" stroke-linecap="round" stroke-linejoin="round"/>
<path d="M666.61,561.51 L670.19,558.20 L666.99,572.00 M676.31,561.51 L679.89,558.20 L676.69,572.00 " fill="none" stroke="#2e2e2e" stroke-width="1.2" stroke-linecap="round" stroke-linejoin="round"/>
<path d="M505.71,621.71 L509.29,618.40 L506.09,632.20 M515.69,632.20 L518.89,618.40 L512.67,628.06 L517.77,628.06 " fill="none" stroke="#2e2e2e" stroke-width="1.2" stroke-linecap="round" stroke-linejoin="round"/>
<path d="M559.92,624.75 C558.24,624.75 557.95,623.37 558.36,621.57 C558.84,619.50 560.12,618.40 561.40,618.40 C562.67,618.40 563.43,619.50 562.95,621.57 C562.54,623.37 561.61,624.75 559.92,624.75 C558.14,624.75 556.99,626.40 556.51,628.47 C555.97,630.82 556.67,632.20 558.20,632.20 C559.73,632.20 561.07,630.82 561.61,628.47 C562.09,626.40 561.71,624.75 559.92,624.75 Z " fill="none" stroke="#2e2e2e" stroke-width="1.2" stroke-linecap="round" stroke-linejoin="round"/>
<text x="552.6" y="680.9" font-size="23.4" textLength="69.6" lengthAdjust="spacingAndGlyphs" fill="#c42424" style="font-style:normal">HW-2P</text>
</svg></body></html>
